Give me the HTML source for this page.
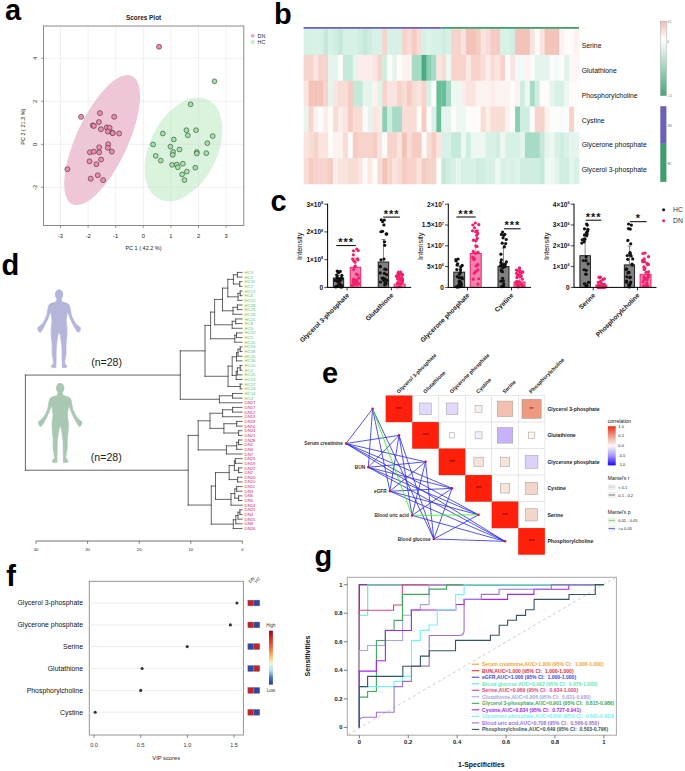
<!DOCTYPE html>
<html><head><meta charset="utf-8"><title>Figure</title>
<style>
html,body{margin:0;padding:0;background:#fff;}
body{width:685px;height:771px;overflow:hidden;}
svg{display:block;font-family:"Liberation Sans", sans-serif;}
</style></head><body>
<svg width="685" height="771" viewBox="0 0 685 771">
<rect x="0" y="0" width="685" height="771" fill="#fff"/>
<rect x="43.50" y="26.00" width="200.30" height="199.50" fill="#fff"/>
<ellipse cx="102.1" cy="140.1" rx="70.8" ry="25.8" transform="rotate(-65.1 102.1 140.1)" fill="#eec6d7"/>
<ellipse cx="183.45" cy="149.4" rx="55.4" ry="33.9" transform="rotate(-63.8 183.45 149.4)" fill="#d9f3dd"/>
<line x1="60.50" y1="26.00" x2="60.50" y2="225.50" stroke="#d8d8d8" stroke-width="0.6" stroke-opacity="0.6"/>
<line x1="88.10" y1="26.00" x2="88.10" y2="225.50" stroke="#d8d8d8" stroke-width="0.6" stroke-opacity="0.6"/>
<line x1="115.70" y1="26.00" x2="115.70" y2="225.50" stroke="#d8d8d8" stroke-width="0.6" stroke-opacity="0.6"/>
<line x1="143.30" y1="26.00" x2="143.30" y2="225.50" stroke="#d8d8d8" stroke-width="0.6" stroke-opacity="0.6"/>
<line x1="170.90" y1="26.00" x2="170.90" y2="225.50" stroke="#d8d8d8" stroke-width="0.6" stroke-opacity="0.6"/>
<line x1="198.50" y1="26.00" x2="198.50" y2="225.50" stroke="#d8d8d8" stroke-width="0.6" stroke-opacity="0.6"/>
<line x1="226.10" y1="26.00" x2="226.10" y2="225.50" stroke="#d8d8d8" stroke-width="0.6" stroke-opacity="0.6"/>
<line x1="43.50" y1="58.30" x2="243.80" y2="58.30" stroke="#d8d8d8" stroke-width="0.6" stroke-opacity="0.6"/>
<line x1="43.50" y1="101.30" x2="243.80" y2="101.30" stroke="#d8d8d8" stroke-width="0.6" stroke-opacity="0.6"/>
<line x1="43.50" y1="144.30" x2="243.80" y2="144.30" stroke="#d8d8d8" stroke-width="0.6" stroke-opacity="0.6"/>
<line x1="43.50" y1="187.30" x2="243.80" y2="187.30" stroke="#d8d8d8" stroke-width="0.6" stroke-opacity="0.6"/>
<rect x="43.50" y="26.00" width="200.30" height="199.50" fill="none" stroke="#8a8a8a" stroke-width="1"/>
<circle cx="81.10" cy="116.80" r="2.5" fill="#ec8cb0" stroke="#4a2834" stroke-width="0.6"/>
<circle cx="99.90" cy="113.10" r="2.5" fill="#ec8cb0" stroke="#4a2834" stroke-width="0.6"/>
<circle cx="114.20" cy="116.80" r="2.5" fill="#ec8cb0" stroke="#4a2834" stroke-width="0.6"/>
<circle cx="98.90" cy="122.10" r="2.5" fill="#ec8cb0" stroke="#4a2834" stroke-width="0.6"/>
<circle cx="92.80" cy="125.40" r="2.5" fill="#ec8cb0" stroke="#4a2834" stroke-width="0.6"/>
<circle cx="93.90" cy="125.90" r="2.5" fill="#ec8cb0" stroke="#4a2834" stroke-width="0.6"/>
<circle cx="100.90" cy="129.20" r="2.5" fill="#ec8cb0" stroke="#4a2834" stroke-width="0.6"/>
<circle cx="106.80" cy="127.40" r="2.5" fill="#ec8cb0" stroke="#4a2834" stroke-width="0.6"/>
<circle cx="109.60" cy="127.80" r="2.5" fill="#ec8cb0" stroke="#4a2834" stroke-width="0.6"/>
<circle cx="107.80" cy="131.60" r="2.5" fill="#ec8cb0" stroke="#4a2834" stroke-width="0.6"/>
<circle cx="112.50" cy="132.80" r="2.5" fill="#ec8cb0" stroke="#4a2834" stroke-width="0.6"/>
<circle cx="119.20" cy="133.50" r="2.5" fill="#ec8cb0" stroke="#4a2834" stroke-width="0.6"/>
<circle cx="108.20" cy="144.20" r="2.5" fill="#ec8cb0" stroke="#4a2834" stroke-width="0.6"/>
<circle cx="99.20" cy="147.30" r="2.5" fill="#ec8cb0" stroke="#4a2834" stroke-width="0.6"/>
<circle cx="107.80" cy="147.80" r="2.5" fill="#ec8cb0" stroke="#4a2834" stroke-width="0.6"/>
<circle cx="111.80" cy="151.60" r="2.5" fill="#ec8cb0" stroke="#4a2834" stroke-width="0.6"/>
<circle cx="89.90" cy="152.30" r="2.5" fill="#ec8cb0" stroke="#4a2834" stroke-width="0.6"/>
<circle cx="93.80" cy="151.60" r="2.5" fill="#ec8cb0" stroke="#4a2834" stroke-width="0.6"/>
<circle cx="99.20" cy="152.30" r="2.5" fill="#ec8cb0" stroke="#4a2834" stroke-width="0.6"/>
<circle cx="101.10" cy="159.50" r="2.5" fill="#ec8cb0" stroke="#4a2834" stroke-width="0.6"/>
<circle cx="89.50" cy="161.30" r="2.5" fill="#ec8cb0" stroke="#4a2834" stroke-width="0.6"/>
<circle cx="96.40" cy="164.20" r="2.5" fill="#ec8cb0" stroke="#4a2834" stroke-width="0.6"/>
<circle cx="67.40" cy="169.20" r="2.5" fill="#ec8cb0" stroke="#4a2834" stroke-width="0.6"/>
<circle cx="97.80" cy="175.20" r="2.5" fill="#ec8cb0" stroke="#4a2834" stroke-width="0.6"/>
<circle cx="90.70" cy="178.70" r="2.5" fill="#ec8cb0" stroke="#4a2834" stroke-width="0.6"/>
<circle cx="103.10" cy="180.10" r="2.5" fill="#ec8cb0" stroke="#4a2834" stroke-width="0.6"/>
<circle cx="159.05" cy="46.76" r="2.5" fill="#ec8cb0" stroke="#4a2834" stroke-width="0.6"/>
<circle cx="112.70" cy="133.10" r="2.5" fill="#ec8cb0" stroke="#4a2834" stroke-width="0.6"/>
<circle cx="190.60" cy="104.30" r="2.4" fill="#9ee6a6" stroke="#2e3e2e" stroke-width="0.6"/>
<circle cx="162.80" cy="133.50" r="2.4" fill="#9ee6a6" stroke="#2e3e2e" stroke-width="0.6"/>
<circle cx="186.40" cy="130.20" r="2.4" fill="#9ee6a6" stroke="#2e3e2e" stroke-width="0.6"/>
<circle cx="196.10" cy="130.20" r="2.4" fill="#9ee6a6" stroke="#2e3e2e" stroke-width="0.6"/>
<circle cx="187.80" cy="135.40" r="2.4" fill="#9ee6a6" stroke="#2e3e2e" stroke-width="0.6"/>
<circle cx="212.70" cy="136.10" r="2.4" fill="#9ee6a6" stroke="#2e3e2e" stroke-width="0.6"/>
<circle cx="173.80" cy="139.50" r="2.4" fill="#9ee6a6" stroke="#2e3e2e" stroke-width="0.6"/>
<circle cx="153.10" cy="144.50" r="2.4" fill="#9ee6a6" stroke="#2e3e2e" stroke-width="0.6"/>
<circle cx="207.30" cy="143.20" r="2.4" fill="#9ee6a6" stroke="#2e3e2e" stroke-width="0.6"/>
<circle cx="170.40" cy="146.60" r="2.4" fill="#9ee6a6" stroke="#2e3e2e" stroke-width="0.6"/>
<circle cx="179.50" cy="149.50" r="2.4" fill="#9ee6a6" stroke="#2e3e2e" stroke-width="0.6"/>
<circle cx="173.10" cy="152.00" r="2.4" fill="#9ee6a6" stroke="#2e3e2e" stroke-width="0.6"/>
<circle cx="172.80" cy="154.90" r="2.4" fill="#9ee6a6" stroke="#2e3e2e" stroke-width="0.6"/>
<circle cx="196.80" cy="152.00" r="2.4" fill="#9ee6a6" stroke="#2e3e2e" stroke-width="0.6"/>
<circle cx="196.80" cy="153.50" r="2.4" fill="#9ee6a6" stroke="#2e3e2e" stroke-width="0.6"/>
<circle cx="206.30" cy="153.20" r="2.4" fill="#9ee6a6" stroke="#2e3e2e" stroke-width="0.6"/>
<circle cx="155.70" cy="155.90" r="2.4" fill="#9ee6a6" stroke="#2e3e2e" stroke-width="0.6"/>
<circle cx="160.70" cy="160.60" r="2.4" fill="#9ee6a6" stroke="#2e3e2e" stroke-width="0.6"/>
<circle cx="172.10" cy="164.90" r="2.4" fill="#9ee6a6" stroke="#2e3e2e" stroke-width="0.6"/>
<circle cx="176.80" cy="164.50" r="2.4" fill="#9ee6a6" stroke="#2e3e2e" stroke-width="0.6"/>
<circle cx="177.80" cy="167.30" r="2.4" fill="#9ee6a6" stroke="#2e3e2e" stroke-width="0.6"/>
<circle cx="182.80" cy="163.70" r="2.4" fill="#9ee6a6" stroke="#2e3e2e" stroke-width="0.6"/>
<circle cx="195.30" cy="167.70" r="2.4" fill="#9ee6a6" stroke="#2e3e2e" stroke-width="0.6"/>
<circle cx="186.80" cy="171.60" r="2.4" fill="#9ee6a6" stroke="#2e3e2e" stroke-width="0.6"/>
<circle cx="182.10" cy="174.40" r="2.4" fill="#9ee6a6" stroke="#2e3e2e" stroke-width="0.6"/>
<circle cx="184.50" cy="180.10" r="2.4" fill="#9ee6a6" stroke="#2e3e2e" stroke-width="0.6"/>
<circle cx="214.50" cy="81.30" r="2.4" fill="#9ee6a6" stroke="#2e3e2e" stroke-width="0.6"/>
<line x1="60.50" y1="225.50" x2="60.50" y2="228.00" stroke="#555" stroke-width="0.6"/>
<text x="60.50" y="238.10" font-size="5.8" text-anchor="middle" fill="#222">-3</text>
<line x1="88.10" y1="225.50" x2="88.10" y2="228.00" stroke="#555" stroke-width="0.6"/>
<text x="88.10" y="238.10" font-size="5.8" text-anchor="middle" fill="#222">-2</text>
<line x1="115.70" y1="225.50" x2="115.70" y2="228.00" stroke="#555" stroke-width="0.6"/>
<text x="115.70" y="238.10" font-size="5.8" text-anchor="middle" fill="#222">-1</text>
<line x1="143.30" y1="225.50" x2="143.30" y2="228.00" stroke="#555" stroke-width="0.6"/>
<text x="143.30" y="238.10" font-size="5.8" text-anchor="middle" fill="#222">0</text>
<line x1="170.90" y1="225.50" x2="170.90" y2="228.00" stroke="#555" stroke-width="0.6"/>
<text x="170.90" y="238.10" font-size="5.8" text-anchor="middle" fill="#222">1</text>
<line x1="198.50" y1="225.50" x2="198.50" y2="228.00" stroke="#555" stroke-width="0.6"/>
<text x="198.50" y="238.10" font-size="5.8" text-anchor="middle" fill="#222">2</text>
<line x1="226.10" y1="225.50" x2="226.10" y2="228.00" stroke="#555" stroke-width="0.6"/>
<text x="226.10" y="238.10" font-size="5.8" text-anchor="middle" fill="#222">3</text>
<line x1="41.00" y1="58.30" x2="43.50" y2="58.30" stroke="#555" stroke-width="0.6"/>
<text x="37.00" y="58.30" font-size="5.8" text-anchor="middle" fill="#222" transform="rotate(-90 37.00 58.30)">4</text>
<line x1="41.00" y1="101.30" x2="43.50" y2="101.30" stroke="#555" stroke-width="0.6"/>
<text x="37.00" y="101.30" font-size="5.8" text-anchor="middle" fill="#222" transform="rotate(-90 37.00 101.30)">2</text>
<line x1="41.00" y1="144.30" x2="43.50" y2="144.30" stroke="#555" stroke-width="0.6"/>
<text x="37.00" y="144.30" font-size="5.8" text-anchor="middle" fill="#222" transform="rotate(-90 37.00 144.30)">0</text>
<line x1="41.00" y1="187.30" x2="43.50" y2="187.30" stroke="#555" stroke-width="0.6"/>
<text x="37.00" y="187.30" font-size="5.8" text-anchor="middle" fill="#222" transform="rotate(-90 37.00 187.30)">-2</text>
<text x="143.60" y="19.60" font-size="6.4" text-anchor="middle" font-weight="bold" fill="#222">Scores Plot</text>
<text x="143.50" y="250.00" font-size="5.5" text-anchor="middle" fill="#222">PC 1 ( 42.2 %)</text>
<text x="25.20" y="126.60" font-size="5.5" text-anchor="middle" fill="#222" transform="rotate(-90 25.20 126.60)">PC 2 ( 21.3 %)</text>
<circle cx="252.70" cy="35.80" r="1.45" fill="#f4b4cc" stroke="#d87ca0" stroke-width="0.6"/>
<text x="257.60" y="37.80" font-size="5.3" fill="#222">DN</text>
<circle cx="252.70" cy="42.00" r="1.45" fill="#e4f8e4" stroke="#8ccc8c" stroke-width="0.6"/>
<text x="257.60" y="44.00" font-size="5.3" fill="#222">HC</text>
<rect x="303.60" y="28.80" width="5.27" height="26.45" fill="#d7f1e6"/>
<rect x="308.52" y="28.80" width="5.27" height="26.45" fill="#d7f1e6"/>
<rect x="313.44" y="28.80" width="5.27" height="26.45" fill="#d7f1e6"/>
<rect x="318.35" y="28.80" width="5.27" height="26.45" fill="#d7f1e6"/>
<rect x="323.27" y="28.80" width="5.27" height="26.45" fill="#c4e9d9"/>
<rect x="328.19" y="28.80" width="5.27" height="26.45" fill="#d7f1e6"/>
<rect x="333.11" y="28.80" width="5.27" height="26.45" fill="#cfeee1"/>
<rect x="338.03" y="28.80" width="5.27" height="26.45" fill="#c4e9d9"/>
<rect x="342.94" y="28.80" width="5.27" height="26.45" fill="#d7f1e6"/>
<rect x="347.86" y="28.80" width="5.27" height="26.45" fill="#d7f1e6"/>
<rect x="352.78" y="28.80" width="5.27" height="26.45" fill="#d7f1e6"/>
<rect x="357.70" y="28.80" width="5.27" height="26.45" fill="#cfeee1"/>
<rect x="362.61" y="28.80" width="5.27" height="26.45" fill="#c4e9d9"/>
<rect x="367.53" y="28.80" width="5.27" height="26.45" fill="#cfeee1"/>
<rect x="372.45" y="28.80" width="5.27" height="26.45" fill="#d7f1e6"/>
<rect x="377.37" y="28.80" width="5.27" height="26.45" fill="#d7f1e6"/>
<rect x="382.29" y="28.80" width="5.27" height="26.45" fill="#f6d3cb"/>
<rect x="387.20" y="28.80" width="5.27" height="26.45" fill="#d7f1e6"/>
<rect x="392.12" y="28.80" width="5.27" height="26.45" fill="#d7f1e6"/>
<rect x="397.04" y="28.80" width="5.27" height="26.45" fill="#d7f1e6"/>
<rect x="401.96" y="28.80" width="5.27" height="26.45" fill="#f6d3cb"/>
<rect x="406.88" y="28.80" width="5.27" height="26.45" fill="#f8dcd6"/>
<rect x="411.79" y="28.80" width="5.27" height="26.45" fill="#f5cbc2"/>
<rect x="416.71" y="28.80" width="5.27" height="26.45" fill="#f8dcd6"/>
<rect x="421.63" y="28.80" width="5.27" height="26.45" fill="#d7f1e6"/>
<rect x="426.55" y="28.80" width="5.27" height="26.45" fill="#def3ea"/>
<rect x="431.46" y="28.80" width="5.27" height="26.45" fill="#d7f1e6"/>
<rect x="436.38" y="28.80" width="5.27" height="26.45" fill="#d7f1e6"/>
<rect x="441.30" y="28.80" width="5.27" height="26.45" fill="#cfeee1"/>
<rect x="446.22" y="28.80" width="5.27" height="26.45" fill="#d7f1e6"/>
<rect x="451.14" y="28.80" width="5.27" height="26.45" fill="#f6d3cb"/>
<rect x="456.05" y="28.80" width="5.27" height="26.45" fill="#f6d3cb"/>
<rect x="460.97" y="28.80" width="5.27" height="26.45" fill="#fae4df"/>
<rect x="465.89" y="28.80" width="5.27" height="26.45" fill="#f3c3b9"/>
<rect x="470.81" y="28.80" width="5.27" height="26.45" fill="#f3c3b9"/>
<rect x="475.73" y="28.80" width="5.27" height="26.45" fill="#f5cbc2"/>
<rect x="480.64" y="28.80" width="5.27" height="26.45" fill="#fae4df"/>
<rect x="485.56" y="28.80" width="5.27" height="26.45" fill="#f8dcd6"/>
<rect x="490.48" y="28.80" width="5.27" height="26.45" fill="#f5cbc2"/>
<rect x="495.40" y="28.80" width="5.27" height="26.45" fill="#f5cbc2"/>
<rect x="500.31" y="28.80" width="5.27" height="26.45" fill="#d7f1e6"/>
<rect x="505.23" y="28.80" width="5.27" height="26.45" fill="#d7f1e6"/>
<rect x="510.15" y="28.80" width="5.27" height="26.45" fill="#cfeee1"/>
<rect x="515.07" y="28.80" width="5.27" height="26.45" fill="#f3c3b9"/>
<rect x="519.99" y="28.80" width="5.27" height="26.45" fill="#f3c3b9"/>
<rect x="524.90" y="28.80" width="5.27" height="26.45" fill="#f3c3b9"/>
<rect x="529.82" y="28.80" width="5.27" height="26.45" fill="#fae4df"/>
<rect x="534.74" y="28.80" width="5.27" height="26.45" fill="#fefcfb"/>
<rect x="539.66" y="28.80" width="5.27" height="26.45" fill="#fae4df"/>
<rect x="544.58" y="28.80" width="5.27" height="26.45" fill="#f3c3b9"/>
<rect x="549.49" y="28.80" width="5.27" height="26.45" fill="#f3c3b9"/>
<rect x="554.41" y="28.80" width="5.27" height="26.45" fill="#f3c3b9"/>
<rect x="559.33" y="28.80" width="5.27" height="26.45" fill="#fcf2ef"/>
<rect x="564.25" y="28.80" width="5.27" height="26.45" fill="#fefcfb"/>
<rect x="569.16" y="28.80" width="5.27" height="26.45" fill="#fefcfb"/>
<rect x="574.08" y="28.80" width="5.27" height="26.45" fill="#fcf2ef"/>
<rect x="303.60" y="54.90" width="5.27" height="26.15" fill="#f6d3cb"/>
<rect x="308.52" y="54.90" width="5.27" height="26.15" fill="#f6d3cb"/>
<rect x="313.44" y="54.90" width="5.27" height="26.15" fill="#fae4df"/>
<rect x="318.35" y="54.90" width="5.27" height="26.15" fill="#f6d3cb"/>
<rect x="323.27" y="54.90" width="5.27" height="26.15" fill="#f6d3cb"/>
<rect x="328.19" y="54.90" width="5.27" height="26.15" fill="#e5f5ee"/>
<rect x="333.11" y="54.90" width="5.27" height="26.15" fill="#e5f5ee"/>
<rect x="338.03" y="54.90" width="5.27" height="26.15" fill="#fefcfb"/>
<rect x="342.94" y="54.90" width="5.27" height="26.15" fill="#c4e9d9"/>
<rect x="347.86" y="54.90" width="5.27" height="26.15" fill="#c4e9d9"/>
<rect x="352.78" y="54.90" width="5.27" height="26.15" fill="#e5f5ee"/>
<rect x="357.70" y="54.90" width="5.27" height="26.15" fill="#fbede9"/>
<rect x="362.61" y="54.90" width="5.27" height="26.15" fill="#fbede9"/>
<rect x="367.53" y="54.90" width="5.27" height="26.15" fill="#fbede9"/>
<rect x="372.45" y="54.90" width="5.27" height="26.15" fill="#fae4df"/>
<rect x="377.37" y="54.90" width="5.27" height="26.15" fill="#f6d3cb"/>
<rect x="382.29" y="54.90" width="5.27" height="26.15" fill="#cfeee1"/>
<rect x="387.20" y="54.90" width="5.27" height="26.15" fill="#fefcfb"/>
<rect x="392.12" y="54.90" width="5.27" height="26.15" fill="#e5f5ee"/>
<rect x="397.04" y="54.90" width="5.27" height="26.15" fill="#fefcfb"/>
<rect x="401.96" y="54.90" width="5.27" height="26.15" fill="#fcf2ef"/>
<rect x="406.88" y="54.90" width="5.27" height="26.15" fill="#fcf2ef"/>
<rect x="411.79" y="54.90" width="5.27" height="26.15" fill="#a8dbc5"/>
<rect x="416.71" y="54.90" width="5.27" height="26.15" fill="#a8dbc5"/>
<rect x="421.63" y="54.90" width="5.27" height="26.15" fill="#4aab80"/>
<rect x="426.55" y="54.90" width="5.27" height="26.15" fill="#8ccfb2"/>
<rect x="431.46" y="54.90" width="5.27" height="26.15" fill="#a8dbc5"/>
<rect x="436.38" y="54.90" width="5.27" height="26.15" fill="#fae4df"/>
<rect x="441.30" y="54.90" width="5.27" height="26.15" fill="#f8dcd6"/>
<rect x="446.22" y="54.90" width="5.27" height="26.15" fill="#edf8f3"/>
<rect x="451.14" y="54.90" width="5.27" height="26.15" fill="#f6d3cb"/>
<rect x="456.05" y="54.90" width="5.27" height="26.15" fill="#f6d3cb"/>
<rect x="460.97" y="54.90" width="5.27" height="26.15" fill="#f6d3cb"/>
<rect x="465.89" y="54.90" width="5.27" height="26.15" fill="#fae9e5"/>
<rect x="470.81" y="54.90" width="5.27" height="26.15" fill="#f6d3cb"/>
<rect x="475.73" y="54.90" width="5.27" height="26.15" fill="#f6d3cb"/>
<rect x="480.64" y="54.90" width="5.27" height="26.15" fill="#f8dcd6"/>
<rect x="485.56" y="54.90" width="5.27" height="26.15" fill="#fbede9"/>
<rect x="490.48" y="54.90" width="5.27" height="26.15" fill="#f8dcd6"/>
<rect x="495.40" y="54.90" width="5.27" height="26.15" fill="#fae4df"/>
<rect x="500.31" y="54.90" width="5.27" height="26.15" fill="#f6d3cb"/>
<rect x="505.23" y="54.90" width="5.27" height="26.15" fill="#fefcfb"/>
<rect x="510.15" y="54.90" width="5.27" height="26.15" fill="#fae4df"/>
<rect x="515.07" y="54.90" width="5.27" height="26.15" fill="#f2faf7"/>
<rect x="519.99" y="54.90" width="5.27" height="26.15" fill="#f2faf7"/>
<rect x="524.90" y="54.90" width="5.27" height="26.15" fill="#fcf2ef"/>
<rect x="529.82" y="54.90" width="5.27" height="26.15" fill="#fefcfb"/>
<rect x="534.74" y="54.90" width="5.27" height="26.15" fill="#e5f5ee"/>
<rect x="539.66" y="54.90" width="5.27" height="26.15" fill="#e5f5ee"/>
<rect x="544.58" y="54.90" width="5.27" height="26.15" fill="#e5f5ee"/>
<rect x="549.49" y="54.90" width="5.27" height="26.15" fill="#fefcfb"/>
<rect x="554.41" y="54.90" width="5.27" height="26.15" fill="#f2faf7"/>
<rect x="559.33" y="54.90" width="5.27" height="26.15" fill="#fefcfb"/>
<rect x="564.25" y="54.90" width="5.27" height="26.15" fill="#def3ea"/>
<rect x="569.16" y="54.90" width="5.27" height="26.15" fill="#fdf6f4"/>
<rect x="574.08" y="54.90" width="5.27" height="26.15" fill="#fdf6f4"/>
<rect x="303.60" y="80.70" width="5.27" height="26.15" fill="#fae4df"/>
<rect x="308.52" y="80.70" width="5.27" height="26.15" fill="#f3c3b9"/>
<rect x="313.44" y="80.70" width="5.27" height="26.15" fill="#f3c3b9"/>
<rect x="318.35" y="80.70" width="5.27" height="26.15" fill="#f3c3b9"/>
<rect x="323.27" y="80.70" width="5.27" height="26.15" fill="#f6d3cb"/>
<rect x="328.19" y="80.70" width="5.27" height="26.15" fill="#e5f5ee"/>
<rect x="333.11" y="80.70" width="5.27" height="26.15" fill="#fae4df"/>
<rect x="338.03" y="80.70" width="5.27" height="26.15" fill="#f8dcd6"/>
<rect x="342.94" y="80.70" width="5.27" height="26.15" fill="#f8dcd6"/>
<rect x="347.86" y="80.70" width="5.27" height="26.15" fill="#f5cbc2"/>
<rect x="352.78" y="80.70" width="5.27" height="26.15" fill="#c4e9d9"/>
<rect x="357.70" y="80.70" width="5.27" height="26.15" fill="#c4e9d9"/>
<rect x="362.61" y="80.70" width="5.27" height="26.15" fill="#e5f5ee"/>
<rect x="367.53" y="80.70" width="5.27" height="26.15" fill="#e5f5ee"/>
<rect x="372.45" y="80.70" width="5.27" height="26.15" fill="#fcf2ef"/>
<rect x="377.37" y="80.70" width="5.27" height="26.15" fill="#def3ea"/>
<rect x="382.29" y="80.70" width="5.27" height="26.15" fill="#f6d3cb"/>
<rect x="387.20" y="80.70" width="5.27" height="26.15" fill="#fae4df"/>
<rect x="392.12" y="80.70" width="5.27" height="26.15" fill="#fae4df"/>
<rect x="397.04" y="80.70" width="5.27" height="26.15" fill="#f6d3cb"/>
<rect x="401.96" y="80.70" width="5.27" height="26.15" fill="#f8dcd6"/>
<rect x="406.88" y="80.70" width="5.27" height="26.15" fill="#f5cbc2"/>
<rect x="411.79" y="80.70" width="5.27" height="26.15" fill="#f8dcd6"/>
<rect x="416.71" y="80.70" width="5.27" height="26.15" fill="#fae4df"/>
<rect x="421.63" y="80.70" width="5.27" height="26.15" fill="#f6d3cb"/>
<rect x="426.55" y="80.70" width="5.27" height="26.15" fill="#d7f1e6"/>
<rect x="431.46" y="80.70" width="5.27" height="26.15" fill="#fefcfb"/>
<rect x="436.38" y="80.70" width="5.27" height="26.15" fill="#68bf99"/>
<rect x="441.30" y="80.70" width="5.27" height="26.15" fill="#68bf99"/>
<rect x="446.22" y="80.70" width="5.27" height="26.15" fill="#a8dbc5"/>
<rect x="451.14" y="80.70" width="5.27" height="26.15" fill="#edf8f3"/>
<rect x="456.05" y="80.70" width="5.27" height="26.15" fill="#edf8f3"/>
<rect x="460.97" y="80.70" width="5.27" height="26.15" fill="#fbede9"/>
<rect x="465.89" y="80.70" width="5.27" height="26.15" fill="#fae4df"/>
<rect x="470.81" y="80.70" width="5.27" height="26.15" fill="#fae4df"/>
<rect x="475.73" y="80.70" width="5.27" height="26.15" fill="#fcf2ef"/>
<rect x="480.64" y="80.70" width="5.27" height="26.15" fill="#fcf2ef"/>
<rect x="485.56" y="80.70" width="5.27" height="26.15" fill="#fcf2ef"/>
<rect x="490.48" y="80.70" width="5.27" height="26.15" fill="#fbede9"/>
<rect x="495.40" y="80.70" width="5.27" height="26.15" fill="#fcf2ef"/>
<rect x="500.31" y="80.70" width="5.27" height="26.15" fill="#fcf2ef"/>
<rect x="505.23" y="80.70" width="5.27" height="26.15" fill="#fcf2ef"/>
<rect x="510.15" y="80.70" width="5.27" height="26.15" fill="#fefcfb"/>
<rect x="515.07" y="80.70" width="5.27" height="26.15" fill="#fcf2ef"/>
<rect x="519.99" y="80.70" width="5.27" height="26.15" fill="#cfeee1"/>
<rect x="524.90" y="80.70" width="5.27" height="26.15" fill="#edf8f3"/>
<rect x="529.82" y="80.70" width="5.27" height="26.15" fill="#a8dbc5"/>
<rect x="534.74" y="80.70" width="5.27" height="26.15" fill="#cfeee1"/>
<rect x="539.66" y="80.70" width="5.27" height="26.15" fill="#fefcfb"/>
<rect x="544.58" y="80.70" width="5.27" height="26.15" fill="#fefcfb"/>
<rect x="549.49" y="80.70" width="5.27" height="26.15" fill="#e5f5ee"/>
<rect x="554.41" y="80.70" width="5.27" height="26.15" fill="#d7f1e6"/>
<rect x="559.33" y="80.70" width="5.27" height="26.15" fill="#d7f1e6"/>
<rect x="564.25" y="80.70" width="5.27" height="26.15" fill="#edf8f3"/>
<rect x="569.16" y="80.70" width="5.27" height="26.15" fill="#fefcfb"/>
<rect x="574.08" y="80.70" width="5.27" height="26.15" fill="#fefcfb"/>
<rect x="303.60" y="106.50" width="5.27" height="26.15" fill="#e5f5ee"/>
<rect x="308.52" y="106.50" width="5.27" height="26.15" fill="#f6d3cb"/>
<rect x="313.44" y="106.50" width="5.27" height="26.15" fill="#fcf2ef"/>
<rect x="318.35" y="106.50" width="5.27" height="26.15" fill="#fefcfb"/>
<rect x="323.27" y="106.50" width="5.27" height="26.15" fill="#fbede9"/>
<rect x="328.19" y="106.50" width="5.27" height="26.15" fill="#fefcfb"/>
<rect x="333.11" y="106.50" width="5.27" height="26.15" fill="#f8dcd6"/>
<rect x="338.03" y="106.50" width="5.27" height="26.15" fill="#fbede9"/>
<rect x="342.94" y="106.50" width="5.27" height="26.15" fill="#fae4df"/>
<rect x="347.86" y="106.50" width="5.27" height="26.15" fill="#f5cbc2"/>
<rect x="352.78" y="106.50" width="5.27" height="26.15" fill="#f8dcd6"/>
<rect x="357.70" y="106.50" width="5.27" height="26.15" fill="#f8dcd6"/>
<rect x="362.61" y="106.50" width="5.27" height="26.15" fill="#fefcfb"/>
<rect x="367.53" y="106.50" width="5.27" height="26.15" fill="#e5f5ee"/>
<rect x="372.45" y="106.50" width="5.27" height="26.15" fill="#fae4df"/>
<rect x="377.37" y="106.50" width="5.27" height="26.15" fill="#fae9e5"/>
<rect x="382.29" y="106.50" width="5.27" height="26.15" fill="#8ccfb2"/>
<rect x="387.20" y="106.50" width="5.27" height="26.15" fill="#cfeee1"/>
<rect x="392.12" y="106.50" width="5.27" height="26.15" fill="#a8dbc5"/>
<rect x="397.04" y="106.50" width="5.27" height="26.15" fill="#a8dbc5"/>
<rect x="401.96" y="106.50" width="5.27" height="26.15" fill="#f8dcd6"/>
<rect x="406.88" y="106.50" width="5.27" height="26.15" fill="#f8dcd6"/>
<rect x="411.79" y="106.50" width="5.27" height="26.15" fill="#f8dcd6"/>
<rect x="416.71" y="106.50" width="5.27" height="26.15" fill="#fefcfb"/>
<rect x="421.63" y="106.50" width="5.27" height="26.15" fill="#f5cbc2"/>
<rect x="426.55" y="106.50" width="5.27" height="26.15" fill="#fefcfb"/>
<rect x="431.46" y="106.50" width="5.27" height="26.15" fill="#d7f1e6"/>
<rect x="436.38" y="106.50" width="5.27" height="26.15" fill="#68bf99"/>
<rect x="441.30" y="106.50" width="5.27" height="26.15" fill="#e5f5ee"/>
<rect x="446.22" y="106.50" width="5.27" height="26.15" fill="#e5f5ee"/>
<rect x="451.14" y="106.50" width="5.27" height="26.15" fill="#fefcfb"/>
<rect x="456.05" y="106.50" width="5.27" height="26.15" fill="#edf8f3"/>
<rect x="460.97" y="106.50" width="5.27" height="26.15" fill="#edf8f3"/>
<rect x="465.89" y="106.50" width="5.27" height="26.15" fill="#fefcfb"/>
<rect x="470.81" y="106.50" width="5.27" height="26.15" fill="#fefcfb"/>
<rect x="475.73" y="106.50" width="5.27" height="26.15" fill="#fefcfb"/>
<rect x="480.64" y="106.50" width="5.27" height="26.15" fill="#f8dcd6"/>
<rect x="485.56" y="106.50" width="5.27" height="26.15" fill="#fbede9"/>
<rect x="490.48" y="106.50" width="5.27" height="26.15" fill="#f8dcd6"/>
<rect x="495.40" y="106.50" width="5.27" height="26.15" fill="#f8dcd6"/>
<rect x="500.31" y="106.50" width="5.27" height="26.15" fill="#f8dcd6"/>
<rect x="505.23" y="106.50" width="5.27" height="26.15" fill="#fcf2ef"/>
<rect x="510.15" y="106.50" width="5.27" height="26.15" fill="#fefcfb"/>
<rect x="515.07" y="106.50" width="5.27" height="26.15" fill="#8ccfb2"/>
<rect x="519.99" y="106.50" width="5.27" height="26.15" fill="#cfeee1"/>
<rect x="524.90" y="106.50" width="5.27" height="26.15" fill="#cfeee1"/>
<rect x="529.82" y="106.50" width="5.27" height="26.15" fill="#fefcfb"/>
<rect x="534.74" y="106.50" width="5.27" height="26.15" fill="#f6d3cb"/>
<rect x="539.66" y="106.50" width="5.27" height="26.15" fill="#f6d3cb"/>
<rect x="544.58" y="106.50" width="5.27" height="26.15" fill="#fcf2ef"/>
<rect x="549.49" y="106.50" width="5.27" height="26.15" fill="#fefcfb"/>
<rect x="554.41" y="106.50" width="5.27" height="26.15" fill="#fefcfb"/>
<rect x="559.33" y="106.50" width="5.27" height="26.15" fill="#f6fcf9"/>
<rect x="564.25" y="106.50" width="5.27" height="26.15" fill="#fefcfb"/>
<rect x="569.16" y="106.50" width="5.27" height="26.15" fill="#f6d3cb"/>
<rect x="574.08" y="106.50" width="5.27" height="26.15" fill="#fefcfb"/>
<rect x="303.60" y="132.30" width="5.27" height="26.15" fill="#fae4df"/>
<rect x="308.52" y="132.30" width="5.27" height="26.15" fill="#f8dcd6"/>
<rect x="313.44" y="132.30" width="5.27" height="26.15" fill="#f6d3cb"/>
<rect x="318.35" y="132.30" width="5.27" height="26.15" fill="#fae4df"/>
<rect x="323.27" y="132.30" width="5.27" height="26.15" fill="#fae4df"/>
<rect x="328.19" y="132.30" width="5.27" height="26.15" fill="#fefcfb"/>
<rect x="333.11" y="132.30" width="5.27" height="26.15" fill="#fcf2ef"/>
<rect x="338.03" y="132.30" width="5.27" height="26.15" fill="#fcf2ef"/>
<rect x="342.94" y="132.30" width="5.27" height="26.15" fill="#f8dcd6"/>
<rect x="347.86" y="132.30" width="5.27" height="26.15" fill="#fefcfb"/>
<rect x="352.78" y="132.30" width="5.27" height="26.15" fill="#f5cbc2"/>
<rect x="357.70" y="132.30" width="5.27" height="26.15" fill="#f6d3cb"/>
<rect x="362.61" y="132.30" width="5.27" height="26.15" fill="#f6d3cb"/>
<rect x="367.53" y="132.30" width="5.27" height="26.15" fill="#f6d3cb"/>
<rect x="372.45" y="132.30" width="5.27" height="26.15" fill="#f5cbc2"/>
<rect x="377.37" y="132.30" width="5.27" height="26.15" fill="#fae4df"/>
<rect x="382.29" y="132.30" width="5.27" height="26.15" fill="#fefcfb"/>
<rect x="387.20" y="132.30" width="5.27" height="26.15" fill="#f6d3cb"/>
<rect x="392.12" y="132.30" width="5.27" height="26.15" fill="#f6d3cb"/>
<rect x="397.04" y="132.30" width="5.27" height="26.15" fill="#fae4df"/>
<rect x="401.96" y="132.30" width="5.27" height="26.15" fill="#f3c3b9"/>
<rect x="406.88" y="132.30" width="5.27" height="26.15" fill="#f8dcd6"/>
<rect x="411.79" y="132.30" width="5.27" height="26.15" fill="#f5cbc2"/>
<rect x="416.71" y="132.30" width="5.27" height="26.15" fill="#f5cbc2"/>
<rect x="421.63" y="132.30" width="5.27" height="26.15" fill="#fefcfb"/>
<rect x="426.55" y="132.30" width="5.27" height="26.15" fill="#f8dcd6"/>
<rect x="431.46" y="132.30" width="5.27" height="26.15" fill="#f5cbc2"/>
<rect x="436.38" y="132.30" width="5.27" height="26.15" fill="#fae4df"/>
<rect x="441.30" y="132.30" width="5.27" height="26.15" fill="#d7f1e6"/>
<rect x="446.22" y="132.30" width="5.27" height="26.15" fill="#d7f1e6"/>
<rect x="451.14" y="132.30" width="5.27" height="26.15" fill="#c4e9d9"/>
<rect x="456.05" y="132.30" width="5.27" height="26.15" fill="#c4e9d9"/>
<rect x="460.97" y="132.30" width="5.27" height="26.15" fill="#edf8f3"/>
<rect x="465.89" y="132.30" width="5.27" height="26.15" fill="#cfeee1"/>
<rect x="470.81" y="132.30" width="5.27" height="26.15" fill="#edf8f3"/>
<rect x="475.73" y="132.30" width="5.27" height="26.15" fill="#edf8f3"/>
<rect x="480.64" y="132.30" width="5.27" height="26.15" fill="#edf8f3"/>
<rect x="485.56" y="132.30" width="5.27" height="26.15" fill="#d7f1e6"/>
<rect x="490.48" y="132.30" width="5.27" height="26.15" fill="#d7f1e6"/>
<rect x="495.40" y="132.30" width="5.27" height="26.15" fill="#cfeee1"/>
<rect x="500.31" y="132.30" width="5.27" height="26.15" fill="#edf8f3"/>
<rect x="505.23" y="132.30" width="5.27" height="26.15" fill="#d7f1e6"/>
<rect x="510.15" y="132.30" width="5.27" height="26.15" fill="#d7f1e6"/>
<rect x="515.07" y="132.30" width="5.27" height="26.15" fill="#d7f1e6"/>
<rect x="519.99" y="132.30" width="5.27" height="26.15" fill="#e5f5ee"/>
<rect x="524.90" y="132.30" width="5.27" height="26.15" fill="#a8dbc5"/>
<rect x="529.82" y="132.30" width="5.27" height="26.15" fill="#a8dbc5"/>
<rect x="534.74" y="132.30" width="5.27" height="26.15" fill="#a8dbc5"/>
<rect x="539.66" y="132.30" width="5.27" height="26.15" fill="#c4e9d9"/>
<rect x="544.58" y="132.30" width="5.27" height="26.15" fill="#e5f5ee"/>
<rect x="549.49" y="132.30" width="5.27" height="26.15" fill="#edf8f3"/>
<rect x="554.41" y="132.30" width="5.27" height="26.15" fill="#d7f1e6"/>
<rect x="559.33" y="132.30" width="5.27" height="26.15" fill="#cfeee1"/>
<rect x="564.25" y="132.30" width="5.27" height="26.15" fill="#d7f1e6"/>
<rect x="569.16" y="132.30" width="5.27" height="26.15" fill="#e5f5ee"/>
<rect x="574.08" y="132.30" width="5.27" height="26.15" fill="#e5f5ee"/>
<rect x="303.60" y="158.10" width="5.27" height="26.15" fill="#f8dcd6"/>
<rect x="308.52" y="158.10" width="5.27" height="26.15" fill="#f5cbc2"/>
<rect x="313.44" y="158.10" width="5.27" height="26.15" fill="#f6d3cb"/>
<rect x="318.35" y="158.10" width="5.27" height="26.15" fill="#f6d3cb"/>
<rect x="323.27" y="158.10" width="5.27" height="26.15" fill="#f6d3cb"/>
<rect x="328.19" y="158.10" width="5.27" height="26.15" fill="#f5cbc2"/>
<rect x="333.11" y="158.10" width="5.27" height="26.15" fill="#fbede9"/>
<rect x="338.03" y="158.10" width="5.27" height="26.15" fill="#fae4df"/>
<rect x="342.94" y="158.10" width="5.27" height="26.15" fill="#fae4df"/>
<rect x="347.86" y="158.10" width="5.27" height="26.15" fill="#f8dcd6"/>
<rect x="352.78" y="158.10" width="5.27" height="26.15" fill="#f8dcd6"/>
<rect x="357.70" y="158.10" width="5.27" height="26.15" fill="#fae4df"/>
<rect x="362.61" y="158.10" width="5.27" height="26.15" fill="#fefcfb"/>
<rect x="367.53" y="158.10" width="5.27" height="26.15" fill="#fae9e5"/>
<rect x="372.45" y="158.10" width="5.27" height="26.15" fill="#fefcfb"/>
<rect x="377.37" y="158.10" width="5.27" height="26.15" fill="#f8dcd6"/>
<rect x="382.29" y="158.10" width="5.27" height="26.15" fill="#f3c3b9"/>
<rect x="387.20" y="158.10" width="5.27" height="26.15" fill="#f6d3cb"/>
<rect x="392.12" y="158.10" width="5.27" height="26.15" fill="#fae4df"/>
<rect x="397.04" y="158.10" width="5.27" height="26.15" fill="#f8dcd6"/>
<rect x="401.96" y="158.10" width="5.27" height="26.15" fill="#f5cbc2"/>
<rect x="406.88" y="158.10" width="5.27" height="26.15" fill="#f6d3cb"/>
<rect x="411.79" y="158.10" width="5.27" height="26.15" fill="#f6d3cb"/>
<rect x="416.71" y="158.10" width="5.27" height="26.15" fill="#fae4df"/>
<rect x="421.63" y="158.10" width="5.27" height="26.15" fill="#f5cbc2"/>
<rect x="426.55" y="158.10" width="5.27" height="26.15" fill="#f6d3cb"/>
<rect x="431.46" y="158.10" width="5.27" height="26.15" fill="#f6d3cb"/>
<rect x="436.38" y="158.10" width="5.27" height="26.15" fill="#fefcfb"/>
<rect x="441.30" y="158.10" width="5.27" height="26.15" fill="#c4e9d9"/>
<rect x="446.22" y="158.10" width="5.27" height="26.15" fill="#cfeee1"/>
<rect x="451.14" y="158.10" width="5.27" height="26.15" fill="#d7f1e6"/>
<rect x="456.05" y="158.10" width="5.27" height="26.15" fill="#e5f5ee"/>
<rect x="460.97" y="158.10" width="5.27" height="26.15" fill="#d7f1e6"/>
<rect x="465.89" y="158.10" width="5.27" height="26.15" fill="#d7f1e6"/>
<rect x="470.81" y="158.10" width="5.27" height="26.15" fill="#d7f1e6"/>
<rect x="475.73" y="158.10" width="5.27" height="26.15" fill="#cfeee1"/>
<rect x="480.64" y="158.10" width="5.27" height="26.15" fill="#cfeee1"/>
<rect x="485.56" y="158.10" width="5.27" height="26.15" fill="#d7f1e6"/>
<rect x="490.48" y="158.10" width="5.27" height="26.15" fill="#d7f1e6"/>
<rect x="495.40" y="158.10" width="5.27" height="26.15" fill="#edf8f3"/>
<rect x="500.31" y="158.10" width="5.27" height="26.15" fill="#d7f1e6"/>
<rect x="505.23" y="158.10" width="5.27" height="26.15" fill="#def3ea"/>
<rect x="510.15" y="158.10" width="5.27" height="26.15" fill="#d7f1e6"/>
<rect x="515.07" y="158.10" width="5.27" height="26.15" fill="#def3ea"/>
<rect x="519.99" y="158.10" width="5.27" height="26.15" fill="#cfeee1"/>
<rect x="524.90" y="158.10" width="5.27" height="26.15" fill="#cfeee1"/>
<rect x="529.82" y="158.10" width="5.27" height="26.15" fill="#cfeee1"/>
<rect x="534.74" y="158.10" width="5.27" height="26.15" fill="#cfeee1"/>
<rect x="539.66" y="158.10" width="5.27" height="26.15" fill="#c4e9d9"/>
<rect x="544.58" y="158.10" width="5.27" height="26.15" fill="#edf8f3"/>
<rect x="549.49" y="158.10" width="5.27" height="26.15" fill="#edf8f3"/>
<rect x="554.41" y="158.10" width="5.27" height="26.15" fill="#e5f5ee"/>
<rect x="559.33" y="158.10" width="5.27" height="26.15" fill="#cfeee1"/>
<rect x="564.25" y="158.10" width="5.27" height="26.15" fill="#cfeee1"/>
<rect x="569.16" y="158.10" width="5.27" height="26.15" fill="#e5f5ee"/>
<rect x="574.08" y="158.10" width="5.27" height="26.15" fill="#d7f1e6"/>
<rect x="303.60" y="27.00" width="137.70" height="1.80" fill="#6b62b8"/>
<rect x="441.30" y="27.00" width="137.70" height="1.80" fill="#3f9e6e"/>
<text x="581.70" y="48.30" font-size="6.85" fill="#111">Serine</text>
<text x="581.70" y="73.08" font-size="6.85" fill="#111">Glutathione</text>
<text x="581.70" y="97.86" font-size="6.85" fill="#111">Phosphorylcholine</text>
<text x="581.70" y="122.64" font-size="6.85" fill="#111">Cystine</text>
<text x="581.70" y="147.42" font-size="6.85" fill="#111">Glycerone phosphate</text>
<text x="581.70" y="172.20" font-size="6.85" fill="#111">Glycerol 3-phosphate</text>
<defs><linearGradient id="hmg" x1="0" y1="0" x2="0" y2="1"><stop offset="0" stop-color="#f3b9ad"/><stop offset="0.25" stop-color="#ffffff"/><stop offset="1" stop-color="#3fa878"/></linearGradient></defs>
<rect x="660.30" y="21.20" width="6.10" height="74.60" fill="url(#hmg)" stroke="#aaa" stroke-width="0.5"/>
<text x="667.50" y="23.30" font-size="2.6" fill="#555">0.5</text>
<text x="667.50" y="42.60" font-size="2.6" fill="#555">0</text>
<text x="667.50" y="96.80" font-size="2.6" fill="#555">-1.5</text>
<rect x="660.30" y="106.20" width="6.10" height="37.70" fill="#6b62b8"/>
<rect x="660.30" y="143.90" width="6.10" height="38.00" fill="#3f9e6e"/>
<text x="667.50" y="127.40" font-size="2.8" fill="#555">DN</text>
<text x="667.50" y="164.90" font-size="2.8" fill="#555">HC</text>
<line x1="324.40" y1="287.40" x2="327.60" y2="287.40" stroke="#111" stroke-width="0.8"/>
<text x="323.20" y="289.80" font-size="6.5" text-anchor="end" font-weight="bold" fill="#111">0</text>
<line x1="324.40" y1="259.67" x2="327.60" y2="259.67" stroke="#111" stroke-width="0.8"/>
<text x="323.20" y="262.07" font-size="6.5" text-anchor="end" font-weight="bold" fill="#111">1×10<tspan font-size="3.8" dy="-2.6">8</tspan></text>
<line x1="324.40" y1="231.93" x2="327.60" y2="231.93" stroke="#111" stroke-width="0.8"/>
<text x="323.20" y="234.33" font-size="6.5" text-anchor="end" font-weight="bold" fill="#111">2×10<tspan font-size="3.8" dy="-2.6">8</tspan></text>
<line x1="324.40" y1="204.20" x2="327.60" y2="204.20" stroke="#111" stroke-width="0.8"/>
<text x="323.20" y="206.60" font-size="6.5" text-anchor="end" font-weight="bold" fill="#111">3×10<tspan font-size="3.8" dy="-2.6">8</tspan></text>
<text x="302.30" y="246.20" font-size="7.4" text-anchor="middle" fill="#111" transform="rotate(-90 302.30 246.20)">Intensity</text>
<rect x="333.30" y="278.00" width="10.40" height="9.40" fill="#808080" stroke="#111" stroke-width="0.9"/>
<rect x="350.20" y="267.30" width="10.50" height="20.10" fill="#f282b0" stroke="#f0206c" stroke-width="1.0"/>
<rect x="378.20" y="262.00" width="10.50" height="25.40" fill="#808080" stroke="#111" stroke-width="0.9"/>
<rect x="394.20" y="284.10" width="11.00" height="3.30" fill="#f282b0" stroke="#f0206c" stroke-width="1.0"/>
<line x1="338.50" y1="275.50" x2="338.50" y2="278.00" stroke="#555" stroke-width="0.7"/>
<line x1="336.50" y1="275.50" x2="340.50" y2="275.50" stroke="#555" stroke-width="0.7"/>
<circle cx="338.10" cy="281.73" r="1.6" fill="#111"/>
<circle cx="340.83" cy="279.90" r="1.6" fill="#111"/>
<circle cx="338.63" cy="272.67" r="1.6" fill="#111"/>
<circle cx="339.45" cy="281.51" r="1.6" fill="#111"/>
<circle cx="338.50" cy="280.80" r="1.6" fill="#111"/>
<circle cx="339.60" cy="279.40" r="1.6" fill="#111"/>
<circle cx="338.21" cy="285.50" r="1.6" fill="#111"/>
<circle cx="336.99" cy="280.73" r="1.6" fill="#111"/>
<circle cx="341.88" cy="278.62" r="1.6" fill="#111"/>
<circle cx="341.87" cy="275.44" r="1.6" fill="#111"/>
<circle cx="340.81" cy="286.41" r="1.6" fill="#111"/>
<circle cx="339.91" cy="283.99" r="1.6" fill="#111"/>
<circle cx="337.24" cy="286.44" r="1.6" fill="#111"/>
<circle cx="336.66" cy="275.09" r="1.6" fill="#111"/>
<circle cx="337.07" cy="277.42" r="1.6" fill="#111"/>
<circle cx="335.58" cy="286.81" r="1.6" fill="#111"/>
<circle cx="340.31" cy="271.40" r="1.6" fill="#111"/>
<circle cx="337.82" cy="271.78" r="1.6" fill="#111"/>
<circle cx="340.86" cy="278.17" r="1.6" fill="#111"/>
<circle cx="337.73" cy="278.89" r="1.6" fill="#111"/>
<circle cx="341.61" cy="285.80" r="1.6" fill="#111"/>
<circle cx="340.86" cy="286.96" r="1.6" fill="#111"/>
<circle cx="335.10" cy="280.45" r="1.6" fill="#111"/>
<circle cx="336.53" cy="286.69" r="1.6" fill="#111"/>
<circle cx="341.29" cy="285.43" r="1.6" fill="#111"/>
<circle cx="338.30" cy="284.81" r="1.6" fill="#111"/>
<circle cx="341.77" cy="286.88" r="1.6" fill="#111"/>
<circle cx="337.80" cy="281.54" r="1.6" fill="#111"/>
<circle cx="337.22" cy="271.00" r="1.6" fill="#111"/>
<line x1="355.45" y1="258.00" x2="355.45" y2="267.30" stroke="#f4608f" stroke-width="0.7"/>
<line x1="353.45" y1="258.00" x2="357.45" y2="258.00" stroke="#f4608f" stroke-width="0.7"/>
<circle cx="354.73" cy="266.65" r="1.6" fill="#f0206c"/>
<circle cx="357.86" cy="259.94" r="1.6" fill="#f0206c"/>
<circle cx="356.41" cy="280.09" r="1.6" fill="#f0206c"/>
<circle cx="352.73" cy="284.79" r="1.6" fill="#f0206c"/>
<circle cx="358.78" cy="278.08" r="1.6" fill="#f0206c"/>
<circle cx="353.50" cy="250.85" r="1.6" fill="#f0206c"/>
<circle cx="353.81" cy="260.89" r="1.6" fill="#f0206c"/>
<circle cx="357.30" cy="284.14" r="1.6" fill="#f0206c"/>
<circle cx="354.29" cy="280.79" r="1.6" fill="#f0206c"/>
<circle cx="354.07" cy="284.51" r="1.6" fill="#f0206c"/>
<circle cx="352.55" cy="285.28" r="1.6" fill="#f0206c"/>
<circle cx="352.66" cy="259.07" r="1.6" fill="#f0206c"/>
<circle cx="356.01" cy="282.71" r="1.6" fill="#f0206c"/>
<circle cx="353.70" cy="269.60" r="1.6" fill="#f0206c"/>
<circle cx="356.14" cy="274.00" r="1.6" fill="#f0206c"/>
<circle cx="354.58" cy="282.36" r="1.6" fill="#f0206c"/>
<circle cx="355.13" cy="262.10" r="1.6" fill="#f0206c"/>
<circle cx="358.57" cy="283.85" r="1.6" fill="#f0206c"/>
<circle cx="355.34" cy="266.03" r="1.6" fill="#f0206c"/>
<circle cx="355.96" cy="284.18" r="1.6" fill="#f0206c"/>
<circle cx="357.94" cy="274.99" r="1.6" fill="#f0206c"/>
<circle cx="353.29" cy="281.76" r="1.6" fill="#f0206c"/>
<circle cx="353.10" cy="280.09" r="1.6" fill="#f0206c"/>
<circle cx="358.23" cy="250.50" r="1.6" fill="#f0206c"/>
<circle cx="357.61" cy="258.77" r="1.6" fill="#f0206c"/>
<circle cx="353.75" cy="279.01" r="1.6" fill="#f0206c"/>
<circle cx="353.34" cy="254.82" r="1.6" fill="#f0206c"/>
<circle cx="357.08" cy="281.82" r="1.6" fill="#f0206c"/>
<circle cx="356.77" cy="249.00" r="1.6" fill="#f0206c"/>
<line x1="383.45" y1="239.50" x2="383.45" y2="262.00" stroke="#555" stroke-width="0.7"/>
<line x1="381.45" y1="239.50" x2="385.45" y2="239.50" stroke="#555" stroke-width="0.7"/>
<circle cx="381.25" cy="219.77" r="1.6" fill="#111"/>
<circle cx="382.56" cy="221.58" r="1.6" fill="#111"/>
<circle cx="383.94" cy="224.92" r="1.6" fill="#111"/>
<circle cx="380.94" cy="231.75" r="1.6" fill="#111"/>
<circle cx="382.51" cy="231.31" r="1.6" fill="#111"/>
<circle cx="386.11" cy="234.05" r="1.6" fill="#111"/>
<circle cx="386.72" cy="233.89" r="1.6" fill="#111"/>
<circle cx="384.52" cy="241.81" r="1.6" fill="#111"/>
<circle cx="384.75" cy="245.37" r="1.6" fill="#111"/>
<circle cx="384.02" cy="258.99" r="1.6" fill="#111"/>
<circle cx="381.00" cy="259.82" r="1.6" fill="#111"/>
<circle cx="380.29" cy="266.78" r="1.6" fill="#111"/>
<circle cx="380.17" cy="266.23" r="1.6" fill="#111"/>
<circle cx="386.24" cy="269.50" r="1.6" fill="#111"/>
<circle cx="384.82" cy="269.22" r="1.6" fill="#111"/>
<circle cx="386.60" cy="274.53" r="1.6" fill="#111"/>
<circle cx="380.19" cy="272.97" r="1.6" fill="#111"/>
<circle cx="384.38" cy="273.35" r="1.6" fill="#111"/>
<circle cx="383.33" cy="278.14" r="1.6" fill="#111"/>
<circle cx="385.02" cy="278.85" r="1.6" fill="#111"/>
<circle cx="382.22" cy="278.27" r="1.6" fill="#111"/>
<circle cx="386.85" cy="280.47" r="1.6" fill="#111"/>
<circle cx="380.56" cy="282.00" r="1.6" fill="#111"/>
<circle cx="383.76" cy="280.29" r="1.6" fill="#111"/>
<circle cx="385.06" cy="282.84" r="1.6" fill="#111"/>
<circle cx="386.17" cy="283.45" r="1.6" fill="#111"/>
<circle cx="385.06" cy="283.87" r="1.6" fill="#111"/>
<circle cx="384.84" cy="284.95" r="1.6" fill="#111"/>
<circle cx="384.33" cy="220.00" r="1.6" fill="#111"/>
<line x1="399.70" y1="278.50" x2="399.70" y2="284.10" stroke="#f4608f" stroke-width="0.7"/>
<line x1="397.70" y1="278.50" x2="401.70" y2="278.50" stroke="#f4608f" stroke-width="0.7"/>
<circle cx="397.87" cy="273.75" r="1.6" fill="#f0206c"/>
<circle cx="401.05" cy="283.52" r="1.6" fill="#f0206c"/>
<circle cx="399.68" cy="278.17" r="1.6" fill="#f0206c"/>
<circle cx="400.48" cy="274.04" r="1.6" fill="#f0206c"/>
<circle cx="402.56" cy="274.64" r="1.6" fill="#f0206c"/>
<circle cx="398.04" cy="282.59" r="1.6" fill="#f0206c"/>
<circle cx="396.38" cy="276.21" r="1.6" fill="#f0206c"/>
<circle cx="398.35" cy="274.79" r="1.6" fill="#f0206c"/>
<circle cx="400.91" cy="280.12" r="1.6" fill="#f0206c"/>
<circle cx="397.68" cy="279.23" r="1.6" fill="#f0206c"/>
<circle cx="397.45" cy="283.10" r="1.6" fill="#f0206c"/>
<circle cx="402.46" cy="279.96" r="1.6" fill="#f0206c"/>
<circle cx="400.79" cy="279.51" r="1.6" fill="#f0206c"/>
<circle cx="399.31" cy="286.56" r="1.6" fill="#f0206c"/>
<circle cx="402.36" cy="278.98" r="1.6" fill="#f0206c"/>
<circle cx="398.52" cy="272.14" r="1.6" fill="#f0206c"/>
<circle cx="400.83" cy="274.46" r="1.6" fill="#f0206c"/>
<circle cx="397.65" cy="277.38" r="1.6" fill="#f0206c"/>
<circle cx="399.23" cy="283.01" r="1.6" fill="#f0206c"/>
<circle cx="401.78" cy="277.25" r="1.6" fill="#f0206c"/>
<circle cx="402.52" cy="279.99" r="1.6" fill="#f0206c"/>
<circle cx="402.29" cy="282.24" r="1.6" fill="#f0206c"/>
<circle cx="398.91" cy="275.28" r="1.6" fill="#f0206c"/>
<circle cx="400.27" cy="286.53" r="1.6" fill="#f0206c"/>
<circle cx="398.45" cy="276.97" r="1.6" fill="#f0206c"/>
<circle cx="397.23" cy="286.89" r="1.6" fill="#f0206c"/>
<circle cx="399.68" cy="279.64" r="1.6" fill="#f0206c"/>
<circle cx="401.99" cy="281.62" r="1.6" fill="#f0206c"/>
<circle cx="400.75" cy="272.00" r="1.6" fill="#f0206c"/>
<line x1="327.60" y1="203.70" x2="327.60" y2="287.80" stroke="#000" stroke-width="1.0"/>
<line x1="327.60" y1="287.40" x2="411.20" y2="287.40" stroke="#000" stroke-width="1.0"/>
<line x1="347.10" y1="287.40" x2="347.10" y2="290.40" stroke="#000" stroke-width="0.8"/>
<line x1="391.40" y1="287.40" x2="391.40" y2="290.40" stroke="#000" stroke-width="0.8"/>
<text x="349.50" y="295.80" font-size="6.5" text-anchor="end" font-weight="bold" fill="#111" transform="rotate(-45 349.50 295.80)">Glycerol 3-phosphate</text>
<text x="393.80" y="295.80" font-size="6.5" text-anchor="end" font-weight="bold" fill="#111" transform="rotate(-45 393.80 295.80)">Glutathione</text>
<line x1="336.20" y1="245.60" x2="355.90" y2="245.60" stroke="#000" stroke-width="1.0"/>
<text x="346.05" y="246.20" font-size="11" text-anchor="middle" font-weight="bold" fill="#111" letter-spacing="0.9">***</text>
<line x1="383.20" y1="217.10" x2="399.90" y2="217.10" stroke="#000" stroke-width="1.0"/>
<text x="391.55" y="217.70" font-size="11" text-anchor="middle" font-weight="bold" fill="#111" letter-spacing="0.9">***</text>
<line x1="445.10" y1="287.40" x2="448.30" y2="287.40" stroke="#111" stroke-width="0.8"/>
<text x="443.90" y="289.80" font-size="6.5" text-anchor="end" font-weight="bold" fill="#111">0</text>
<line x1="445.10" y1="266.60" x2="448.30" y2="266.60" stroke="#111" stroke-width="0.8"/>
<text x="443.90" y="269.00" font-size="6.5" text-anchor="end" font-weight="bold" fill="#111">5×10<tspan font-size="3.8" dy="-2.6">6</tspan></text>
<line x1="445.10" y1="245.80" x2="448.30" y2="245.80" stroke="#111" stroke-width="0.8"/>
<text x="443.90" y="248.20" font-size="6.5" text-anchor="end" font-weight="bold" fill="#111">1×10<tspan font-size="3.8" dy="-2.6">7</tspan></text>
<line x1="445.10" y1="225.00" x2="448.30" y2="225.00" stroke="#111" stroke-width="0.8"/>
<text x="443.90" y="227.40" font-size="6.5" text-anchor="end" font-weight="bold" fill="#111">1.5×10<tspan font-size="3.8" dy="-2.6">7</tspan></text>
<line x1="445.10" y1="204.20" x2="448.30" y2="204.20" stroke="#111" stroke-width="0.8"/>
<text x="443.90" y="206.60" font-size="6.5" text-anchor="end" font-weight="bold" fill="#111">2×10<tspan font-size="3.8" dy="-2.6">7</tspan></text>
<text x="423.00" y="246.20" font-size="7.4" text-anchor="middle" fill="#111" transform="rotate(-90 423.00 246.20)">Intensity</text>
<rect x="453.80" y="272.10" width="10.90" height="15.30" fill="#808080" stroke="#111" stroke-width="0.9"/>
<rect x="470.20" y="253.50" width="11.00" height="33.90" fill="#f282b0" stroke="#f0206c" stroke-width="1.0"/>
<rect x="498.00" y="266.60" width="11.00" height="20.80" fill="#808080" stroke="#111" stroke-width="0.9"/>
<rect x="514.00" y="282.00" width="11.00" height="5.40" fill="#f282b0" stroke="#f0206c" stroke-width="1.0"/>
<line x1="459.25" y1="266.00" x2="459.25" y2="272.10" stroke="#555" stroke-width="0.7"/>
<line x1="457.25" y1="266.00" x2="461.25" y2="266.00" stroke="#555" stroke-width="0.7"/>
<circle cx="456.81" cy="269.62" r="1.6" fill="#111"/>
<circle cx="456.17" cy="260.94" r="1.6" fill="#111"/>
<circle cx="460.13" cy="282.36" r="1.6" fill="#111"/>
<circle cx="458.89" cy="284.67" r="1.6" fill="#111"/>
<circle cx="460.13" cy="277.83" r="1.6" fill="#111"/>
<circle cx="460.30" cy="282.40" r="1.6" fill="#111"/>
<circle cx="461.34" cy="283.76" r="1.6" fill="#111"/>
<circle cx="462.37" cy="278.85" r="1.6" fill="#111"/>
<circle cx="460.50" cy="272.48" r="1.6" fill="#111"/>
<circle cx="457.21" cy="276.57" r="1.6" fill="#111"/>
<circle cx="459.08" cy="281.43" r="1.6" fill="#111"/>
<circle cx="457.07" cy="265.10" r="1.6" fill="#111"/>
<circle cx="455.92" cy="259.70" r="1.6" fill="#111"/>
<circle cx="459.06" cy="277.77" r="1.6" fill="#111"/>
<circle cx="460.71" cy="286.26" r="1.6" fill="#111"/>
<circle cx="457.07" cy="286.78" r="1.6" fill="#111"/>
<circle cx="457.70" cy="263.85" r="1.6" fill="#111"/>
<circle cx="458.20" cy="286.67" r="1.6" fill="#111"/>
<circle cx="460.59" cy="269.71" r="1.6" fill="#111"/>
<circle cx="459.39" cy="274.24" r="1.6" fill="#111"/>
<circle cx="460.03" cy="281.59" r="1.6" fill="#111"/>
<circle cx="460.99" cy="266.82" r="1.6" fill="#111"/>
<circle cx="458.53" cy="286.89" r="1.6" fill="#111"/>
<circle cx="461.24" cy="285.29" r="1.6" fill="#111"/>
<circle cx="462.01" cy="277.71" r="1.6" fill="#111"/>
<circle cx="456.44" cy="286.84" r="1.6" fill="#111"/>
<circle cx="462.19" cy="265.44" r="1.6" fill="#111"/>
<circle cx="460.76" cy="283.26" r="1.6" fill="#111"/>
<circle cx="458.14" cy="259.00" r="1.6" fill="#111"/>
<line x1="475.70" y1="241.00" x2="475.70" y2="253.50" stroke="#f4608f" stroke-width="0.7"/>
<line x1="473.70" y1="241.00" x2="477.70" y2="241.00" stroke="#f4608f" stroke-width="0.7"/>
<circle cx="477.52" cy="265.17" r="1.6" fill="#f0206c"/>
<circle cx="475.61" cy="253.33" r="1.6" fill="#f0206c"/>
<circle cx="472.49" cy="230.80" r="1.6" fill="#f0206c"/>
<circle cx="477.80" cy="269.93" r="1.6" fill="#f0206c"/>
<circle cx="472.74" cy="257.40" r="1.6" fill="#f0206c"/>
<circle cx="477.74" cy="233.38" r="1.6" fill="#f0206c"/>
<circle cx="473.48" cy="240.16" r="1.6" fill="#f0206c"/>
<circle cx="474.58" cy="227.86" r="1.6" fill="#f0206c"/>
<circle cx="477.66" cy="264.52" r="1.6" fill="#f0206c"/>
<circle cx="473.26" cy="251.43" r="1.6" fill="#f0206c"/>
<circle cx="473.31" cy="279.15" r="1.6" fill="#f0206c"/>
<circle cx="475.81" cy="246.08" r="1.6" fill="#f0206c"/>
<circle cx="477.22" cy="238.42" r="1.6" fill="#f0206c"/>
<circle cx="478.01" cy="252.15" r="1.6" fill="#f0206c"/>
<circle cx="476.99" cy="246.41" r="1.6" fill="#f0206c"/>
<circle cx="478.73" cy="278.76" r="1.6" fill="#f0206c"/>
<circle cx="475.65" cy="231.64" r="1.6" fill="#f0206c"/>
<circle cx="478.75" cy="224.71" r="1.6" fill="#f0206c"/>
<circle cx="472.88" cy="224.99" r="1.6" fill="#f0206c"/>
<circle cx="473.81" cy="259.62" r="1.6" fill="#f0206c"/>
<circle cx="475.88" cy="240.65" r="1.6" fill="#f0206c"/>
<circle cx="474.27" cy="273.20" r="1.6" fill="#f0206c"/>
<circle cx="477.26" cy="230.79" r="1.6" fill="#f0206c"/>
<circle cx="476.64" cy="235.34" r="1.6" fill="#f0206c"/>
<circle cx="475.85" cy="271.60" r="1.6" fill="#f0206c"/>
<circle cx="478.04" cy="284.08" r="1.6" fill="#f0206c"/>
<circle cx="476.11" cy="265.98" r="1.6" fill="#f0206c"/>
<circle cx="474.42" cy="258.70" r="1.6" fill="#f0206c"/>
<circle cx="475.34" cy="223.00" r="1.6" fill="#f0206c"/>
<line x1="503.50" y1="248.00" x2="503.50" y2="266.60" stroke="#555" stroke-width="0.7"/>
<line x1="501.50" y1="248.00" x2="505.50" y2="248.00" stroke="#555" stroke-width="0.7"/>
<circle cx="505.65" cy="243.53" r="1.6" fill="#111"/>
<circle cx="506.22" cy="239.50" r="1.6" fill="#111"/>
<circle cx="503.34" cy="280.89" r="1.6" fill="#111"/>
<circle cx="502.26" cy="243.14" r="1.6" fill="#111"/>
<circle cx="501.40" cy="234.41" r="1.6" fill="#111"/>
<circle cx="504.30" cy="264.73" r="1.6" fill="#111"/>
<circle cx="506.39" cy="261.78" r="1.6" fill="#111"/>
<circle cx="500.98" cy="281.18" r="1.6" fill="#111"/>
<circle cx="505.40" cy="264.03" r="1.6" fill="#111"/>
<circle cx="500.25" cy="265.97" r="1.6" fill="#111"/>
<circle cx="501.42" cy="259.77" r="1.6" fill="#111"/>
<circle cx="501.65" cy="286.64" r="1.6" fill="#111"/>
<circle cx="504.77" cy="234.34" r="1.6" fill="#111"/>
<circle cx="502.29" cy="265.22" r="1.6" fill="#111"/>
<circle cx="502.52" cy="271.72" r="1.6" fill="#111"/>
<circle cx="504.31" cy="246.68" r="1.6" fill="#111"/>
<circle cx="500.81" cy="262.40" r="1.6" fill="#111"/>
<circle cx="505.07" cy="266.68" r="1.6" fill="#111"/>
<circle cx="500.93" cy="254.22" r="1.6" fill="#111"/>
<circle cx="503.57" cy="285.78" r="1.6" fill="#111"/>
<circle cx="501.80" cy="263.87" r="1.6" fill="#111"/>
<circle cx="501.44" cy="271.01" r="1.6" fill="#111"/>
<circle cx="503.71" cy="235.29" r="1.6" fill="#111"/>
<circle cx="503.07" cy="237.81" r="1.6" fill="#111"/>
<circle cx="502.66" cy="278.24" r="1.6" fill="#111"/>
<circle cx="502.91" cy="267.71" r="1.6" fill="#111"/>
<circle cx="503.70" cy="283.94" r="1.6" fill="#111"/>
<circle cx="501.19" cy="269.92" r="1.6" fill="#111"/>
<circle cx="502.61" cy="232.00" r="1.6" fill="#111"/>
<line x1="519.50" y1="276.00" x2="519.50" y2="282.00" stroke="#f4608f" stroke-width="0.7"/>
<line x1="517.50" y1="276.00" x2="521.50" y2="276.00" stroke="#f4608f" stroke-width="0.7"/>
<circle cx="517.47" cy="277.02" r="1.6" fill="#f0206c"/>
<circle cx="520.74" cy="276.86" r="1.6" fill="#f0206c"/>
<circle cx="522.30" cy="279.20" r="1.6" fill="#f0206c"/>
<circle cx="522.68" cy="271.84" r="1.6" fill="#f0206c"/>
<circle cx="516.88" cy="277.45" r="1.6" fill="#f0206c"/>
<circle cx="519.54" cy="271.70" r="1.6" fill="#f0206c"/>
<circle cx="521.26" cy="284.53" r="1.6" fill="#f0206c"/>
<circle cx="519.52" cy="274.52" r="1.6" fill="#f0206c"/>
<circle cx="520.76" cy="272.84" r="1.6" fill="#f0206c"/>
<circle cx="517.39" cy="270.54" r="1.6" fill="#f0206c"/>
<circle cx="516.58" cy="283.21" r="1.6" fill="#f0206c"/>
<circle cx="516.82" cy="283.23" r="1.6" fill="#f0206c"/>
<circle cx="516.35" cy="270.02" r="1.6" fill="#f0206c"/>
<circle cx="519.85" cy="284.75" r="1.6" fill="#f0206c"/>
<circle cx="519.60" cy="268.04" r="1.6" fill="#f0206c"/>
<circle cx="519.97" cy="270.92" r="1.6" fill="#f0206c"/>
<circle cx="517.10" cy="285.86" r="1.6" fill="#f0206c"/>
<circle cx="517.35" cy="284.43" r="1.6" fill="#f0206c"/>
<circle cx="517.49" cy="274.85" r="1.6" fill="#f0206c"/>
<circle cx="521.81" cy="284.13" r="1.6" fill="#f0206c"/>
<circle cx="522.83" cy="286.28" r="1.6" fill="#f0206c"/>
<circle cx="522.40" cy="272.31" r="1.6" fill="#f0206c"/>
<circle cx="516.75" cy="281.33" r="1.6" fill="#f0206c"/>
<circle cx="516.52" cy="273.34" r="1.6" fill="#f0206c"/>
<circle cx="522.57" cy="285.95" r="1.6" fill="#f0206c"/>
<circle cx="519.24" cy="281.68" r="1.6" fill="#f0206c"/>
<circle cx="521.30" cy="275.81" r="1.6" fill="#f0206c"/>
<circle cx="518.32" cy="286.93" r="1.6" fill="#f0206c"/>
<circle cx="519.40" cy="268.00" r="1.6" fill="#f0206c"/>
<line x1="448.30" y1="203.70" x2="448.30" y2="287.80" stroke="#000" stroke-width="1.0"/>
<line x1="448.30" y1="287.40" x2="531.10" y2="287.40" stroke="#000" stroke-width="1.0"/>
<line x1="467.50" y1="287.40" x2="467.50" y2="290.40" stroke="#000" stroke-width="0.8"/>
<line x1="511.50" y1="287.40" x2="511.50" y2="290.40" stroke="#000" stroke-width="0.8"/>
<text x="469.90" y="295.80" font-size="6.5" text-anchor="end" font-weight="bold" fill="#111" transform="rotate(-45 469.90 295.80)">Glycerone phosphate</text>
<text x="513.90" y="295.80" font-size="6.5" text-anchor="end" font-weight="bold" fill="#111" transform="rotate(-45 513.90 295.80)">Cystine</text>
<line x1="456.40" y1="217.00" x2="475.70" y2="217.00" stroke="#000" stroke-width="1.0"/>
<text x="466.05" y="217.60" font-size="11" text-anchor="middle" font-weight="bold" fill="#111" letter-spacing="0.9">***</text>
<line x1="504.00" y1="228.80" x2="520.60" y2="228.80" stroke="#000" stroke-width="1.0"/>
<text x="512.30" y="229.40" font-size="11" text-anchor="middle" font-weight="bold" fill="#111" letter-spacing="0.9">***</text>
<line x1="570.80" y1="287.40" x2="574.00" y2="287.40" stroke="#111" stroke-width="0.8"/>
<text x="569.60" y="289.80" font-size="6.5" text-anchor="end" font-weight="bold" fill="#111">0</text>
<line x1="570.80" y1="266.60" x2="574.00" y2="266.60" stroke="#111" stroke-width="0.8"/>
<text x="569.60" y="269.00" font-size="6.5" text-anchor="end" font-weight="bold" fill="#111">1×10<tspan font-size="3.8" dy="-2.6">6</tspan></text>
<line x1="570.80" y1="245.80" x2="574.00" y2="245.80" stroke="#111" stroke-width="0.8"/>
<text x="569.60" y="248.20" font-size="6.5" text-anchor="end" font-weight="bold" fill="#111">2×10<tspan font-size="3.8" dy="-2.6">6</tspan></text>
<line x1="570.80" y1="225.00" x2="574.00" y2="225.00" stroke="#111" stroke-width="0.8"/>
<text x="569.60" y="227.40" font-size="6.5" text-anchor="end" font-weight="bold" fill="#111">3×10<tspan font-size="3.8" dy="-2.6">6</tspan></text>
<line x1="570.80" y1="204.20" x2="574.00" y2="204.20" stroke="#111" stroke-width="0.8"/>
<text x="569.60" y="206.60" font-size="6.5" text-anchor="end" font-weight="bold" fill="#111">4×10<tspan font-size="3.8" dy="-2.6">6</tspan></text>
<text x="548.70" y="246.20" font-size="7.4" text-anchor="middle" fill="#111" transform="rotate(-90 548.70 246.20)">Intensity</text>
<rect x="579.90" y="255.70" width="10.50" height="31.70" fill="#808080" stroke="#111" stroke-width="0.9"/>
<rect x="595.90" y="285.20" width="10.90" height="2.20" fill="#f282b0" stroke="#f0206c" stroke-width="1.0"/>
<rect x="624.30" y="264.90" width="10.30" height="22.50" fill="#808080" stroke="#111" stroke-width="0.9"/>
<rect x="640.10" y="274.30" width="10.90" height="13.10" fill="#f282b0" stroke="#f0206c" stroke-width="1.0"/>
<line x1="585.15" y1="237.00" x2="585.15" y2="255.70" stroke="#555" stroke-width="0.7"/>
<line x1="583.15" y1="237.00" x2="587.15" y2="237.00" stroke="#555" stroke-width="0.7"/>
<circle cx="587.29" cy="225.04" r="1.6" fill="#111"/>
<circle cx="584.51" cy="228.83" r="1.6" fill="#111"/>
<circle cx="587.85" cy="229.24" r="1.6" fill="#111"/>
<circle cx="587.73" cy="230.83" r="1.6" fill="#111"/>
<circle cx="586.47" cy="232.48" r="1.6" fill="#111"/>
<circle cx="586.97" cy="232.83" r="1.6" fill="#111"/>
<circle cx="586.95" cy="234.24" r="1.6" fill="#111"/>
<circle cx="584.51" cy="234.89" r="1.6" fill="#111"/>
<circle cx="586.66" cy="235.57" r="1.6" fill="#111"/>
<circle cx="582.23" cy="239.77" r="1.6" fill="#111"/>
<circle cx="584.07" cy="239.27" r="1.6" fill="#111"/>
<circle cx="584.94" cy="239.20" r="1.6" fill="#111"/>
<circle cx="581.82" cy="243.03" r="1.6" fill="#111"/>
<circle cx="584.17" cy="241.84" r="1.6" fill="#111"/>
<circle cx="586.09" cy="256.94" r="1.6" fill="#111"/>
<circle cx="585.99" cy="260.72" r="1.6" fill="#111"/>
<circle cx="583.33" cy="260.49" r="1.6" fill="#111"/>
<circle cx="588.17" cy="263.87" r="1.6" fill="#111"/>
<circle cx="586.28" cy="270.31" r="1.6" fill="#111"/>
<circle cx="584.05" cy="269.77" r="1.6" fill="#111"/>
<circle cx="586.24" cy="274.24" r="1.6" fill="#111"/>
<circle cx="585.62" cy="274.01" r="1.6" fill="#111"/>
<circle cx="585.37" cy="284.16" r="1.6" fill="#111"/>
<circle cx="584.40" cy="283.73" r="1.6" fill="#111"/>
<circle cx="588.55" cy="282.42" r="1.6" fill="#111"/>
<circle cx="586.12" cy="285.99" r="1.6" fill="#111"/>
<circle cx="586.52" cy="285.59" r="1.6" fill="#111"/>
<circle cx="586.93" cy="285.67" r="1.6" fill="#111"/>
<circle cx="586.59" cy="224.00" r="1.6" fill="#111"/>
<line x1="601.35" y1="281.00" x2="601.35" y2="285.20" stroke="#f4608f" stroke-width="0.7"/>
<line x1="599.35" y1="281.00" x2="603.35" y2="281.00" stroke="#f4608f" stroke-width="0.7"/>
<circle cx="598.35" cy="287.50" r="1.6" fill="#f0206c"/>
<circle cx="604.38" cy="284.53" r="1.6" fill="#f0206c"/>
<circle cx="600.81" cy="282.72" r="1.6" fill="#f0206c"/>
<circle cx="601.53" cy="287.19" r="1.6" fill="#f0206c"/>
<circle cx="602.02" cy="286.52" r="1.6" fill="#f0206c"/>
<circle cx="600.44" cy="287.50" r="1.6" fill="#f0206c"/>
<circle cx="599.89" cy="287.35" r="1.6" fill="#f0206c"/>
<circle cx="602.40" cy="286.68" r="1.6" fill="#f0206c"/>
<circle cx="601.76" cy="287.47" r="1.6" fill="#f0206c"/>
<circle cx="599.88" cy="287.21" r="1.6" fill="#f0206c"/>
<circle cx="602.82" cy="279.39" r="1.6" fill="#f0206c"/>
<circle cx="599.96" cy="285.28" r="1.6" fill="#f0206c"/>
<circle cx="598.05" cy="285.70" r="1.6" fill="#f0206c"/>
<circle cx="599.62" cy="277.87" r="1.6" fill="#f0206c"/>
<circle cx="598.24" cy="285.09" r="1.6" fill="#f0206c"/>
<circle cx="599.01" cy="277.13" r="1.6" fill="#f0206c"/>
<circle cx="603.08" cy="284.24" r="1.6" fill="#f0206c"/>
<circle cx="600.60" cy="281.44" r="1.6" fill="#f0206c"/>
<circle cx="604.05" cy="287.49" r="1.6" fill="#f0206c"/>
<circle cx="603.04" cy="284.75" r="1.6" fill="#f0206c"/>
<circle cx="598.29" cy="282.37" r="1.6" fill="#f0206c"/>
<circle cx="604.67" cy="287.50" r="1.6" fill="#f0206c"/>
<circle cx="604.37" cy="278.80" r="1.6" fill="#f0206c"/>
<circle cx="598.45" cy="287.41" r="1.6" fill="#f0206c"/>
<circle cx="604.11" cy="286.01" r="1.6" fill="#f0206c"/>
<circle cx="600.87" cy="287.40" r="1.6" fill="#f0206c"/>
<circle cx="601.20" cy="285.81" r="1.6" fill="#f0206c"/>
<circle cx="604.57" cy="284.58" r="1.6" fill="#f0206c"/>
<circle cx="600.58" cy="277.00" r="1.6" fill="#f0206c"/>
<line x1="629.45" y1="246.00" x2="629.45" y2="264.90" stroke="#555" stroke-width="0.7"/>
<line x1="627.45" y1="246.00" x2="631.45" y2="246.00" stroke="#555" stroke-width="0.7"/>
<circle cx="631.38" cy="225.06" r="1.6" fill="#111"/>
<circle cx="630.30" cy="229.05" r="1.6" fill="#111"/>
<circle cx="628.49" cy="228.53" r="1.6" fill="#111"/>
<circle cx="627.90" cy="240.42" r="1.6" fill="#111"/>
<circle cx="630.71" cy="243.75" r="1.6" fill="#111"/>
<circle cx="629.89" cy="253.16" r="1.6" fill="#111"/>
<circle cx="630.07" cy="252.65" r="1.6" fill="#111"/>
<circle cx="630.36" cy="254.78" r="1.6" fill="#111"/>
<circle cx="631.17" cy="256.00" r="1.6" fill="#111"/>
<circle cx="627.34" cy="255.59" r="1.6" fill="#111"/>
<circle cx="627.74" cy="259.29" r="1.6" fill="#111"/>
<circle cx="632.71" cy="258.92" r="1.6" fill="#111"/>
<circle cx="632.28" cy="265.07" r="1.6" fill="#111"/>
<circle cx="632.03" cy="264.10" r="1.6" fill="#111"/>
<circle cx="626.32" cy="268.86" r="1.6" fill="#111"/>
<circle cx="626.46" cy="269.40" r="1.6" fill="#111"/>
<circle cx="627.89" cy="272.89" r="1.6" fill="#111"/>
<circle cx="628.94" cy="272.43" r="1.6" fill="#111"/>
<circle cx="630.29" cy="277.20" r="1.6" fill="#111"/>
<circle cx="626.75" cy="276.81" r="1.6" fill="#111"/>
<circle cx="629.73" cy="277.67" r="1.6" fill="#111"/>
<circle cx="626.54" cy="281.07" r="1.6" fill="#111"/>
<circle cx="626.64" cy="282.19" r="1.6" fill="#111"/>
<circle cx="630.65" cy="282.09" r="1.6" fill="#111"/>
<circle cx="629.79" cy="284.56" r="1.6" fill="#111"/>
<circle cx="630.34" cy="283.37" r="1.6" fill="#111"/>
<circle cx="628.59" cy="285.07" r="1.6" fill="#111"/>
<circle cx="629.30" cy="286.94" r="1.6" fill="#111"/>
<circle cx="628.58" cy="224.00" r="1.6" fill="#111"/>
<line x1="645.55" y1="267.00" x2="645.55" y2="274.30" stroke="#f4608f" stroke-width="0.7"/>
<line x1="643.55" y1="267.00" x2="647.55" y2="267.00" stroke="#f4608f" stroke-width="0.7"/>
<circle cx="644.18" cy="279.38" r="1.6" fill="#f0206c"/>
<circle cx="647.42" cy="264.49" r="1.6" fill="#f0206c"/>
<circle cx="642.67" cy="260.43" r="1.6" fill="#f0206c"/>
<circle cx="643.60" cy="286.11" r="1.6" fill="#f0206c"/>
<circle cx="646.65" cy="285.26" r="1.6" fill="#f0206c"/>
<circle cx="642.71" cy="261.72" r="1.6" fill="#f0206c"/>
<circle cx="644.22" cy="269.44" r="1.6" fill="#f0206c"/>
<circle cx="647.08" cy="263.47" r="1.6" fill="#f0206c"/>
<circle cx="646.87" cy="283.09" r="1.6" fill="#f0206c"/>
<circle cx="644.07" cy="276.76" r="1.6" fill="#f0206c"/>
<circle cx="643.12" cy="281.90" r="1.6" fill="#f0206c"/>
<circle cx="644.58" cy="261.69" r="1.6" fill="#f0206c"/>
<circle cx="647.09" cy="278.58" r="1.6" fill="#f0206c"/>
<circle cx="644.64" cy="268.25" r="1.6" fill="#f0206c"/>
<circle cx="642.95" cy="253.51" r="1.6" fill="#f0206c"/>
<circle cx="646.97" cy="279.94" r="1.6" fill="#f0206c"/>
<circle cx="646.02" cy="272.33" r="1.6" fill="#f0206c"/>
<circle cx="648.40" cy="264.44" r="1.6" fill="#f0206c"/>
<circle cx="648.54" cy="256.71" r="1.6" fill="#f0206c"/>
<circle cx="648.36" cy="276.65" r="1.6" fill="#f0206c"/>
<circle cx="645.13" cy="278.57" r="1.6" fill="#f0206c"/>
<circle cx="647.61" cy="285.70" r="1.6" fill="#f0206c"/>
<circle cx="644.22" cy="258.79" r="1.6" fill="#f0206c"/>
<circle cx="644.31" cy="286.04" r="1.6" fill="#f0206c"/>
<circle cx="644.87" cy="285.96" r="1.6" fill="#f0206c"/>
<circle cx="648.51" cy="271.74" r="1.6" fill="#f0206c"/>
<circle cx="648.23" cy="274.66" r="1.6" fill="#f0206c"/>
<circle cx="643.84" cy="266.97" r="1.6" fill="#f0206c"/>
<circle cx="645.14" cy="253.00" r="1.6" fill="#f0206c"/>
<line x1="574.00" y1="203.70" x2="574.00" y2="287.80" stroke="#000" stroke-width="1.0"/>
<line x1="574.00" y1="287.40" x2="656.50" y2="287.40" stroke="#000" stroke-width="1.0"/>
<line x1="593.20" y1="287.40" x2="593.20" y2="290.40" stroke="#000" stroke-width="0.8"/>
<line x1="637.50" y1="287.40" x2="637.50" y2="290.40" stroke="#000" stroke-width="0.8"/>
<text x="595.60" y="295.80" font-size="6.5" text-anchor="end" font-weight="bold" fill="#111" transform="rotate(-45 595.60 295.80)">Serine</text>
<text x="639.90" y="295.80" font-size="6.5" text-anchor="end" font-weight="bold" fill="#111" transform="rotate(-45 639.90 295.80)">Phosphorylcholine</text>
<line x1="585.80" y1="220.20" x2="601.30" y2="220.20" stroke="#000" stroke-width="1.0"/>
<text x="593.55" y="220.80" font-size="11" text-anchor="middle" font-weight="bold" fill="#111" letter-spacing="0.9">***</text>
<line x1="629.80" y1="221.70" x2="646.70" y2="221.70" stroke="#000" stroke-width="1.0"/>
<text x="638.25" y="222.30" font-size="11" text-anchor="middle" font-weight="bold" fill="#111" letter-spacing="0.9">*</text>
<circle cx="663.60" cy="209.70" r="1.5" fill="#111"/>
<text x="673.00" y="211.80" font-size="6.8" fill="#333">HC</text>
<circle cx="663.60" cy="220.70" r="1.5" fill="#f0206c"/>
<text x="673.00" y="222.80" font-size="6.8" fill="#333">DN</text>
<path d="M61.41,299.22 L61.71,301.83 L65.62,302.83 L68.42,304.04 L69.73,306.24 L70.53,310.65 L71.33,315.17 L73.34,319.68 L75.54,323.49 L77.95,325.69 L80.25,327.40 L80.45,329.30 L79.65,331.31 L77.95,332.41 L76.54,330.71 L75.74,329.30 L72.94,324.29 L70.33,318.67 L68.72,314.66 L67.52,311.26 L66.92,314.66 L66.12,319.68 L66.32,324.19 L67.02,328.20 L66.92,335.72 L66.12,342.74 L65.92,348.25 L66.12,352.76 L65.32,357.77 L64.51,362.99 L66.12,365.19 L67.12,366.60 L65.52,367.70 L62.31,367.50 L62.31,362.99 L62.11,357.77 L62.11,352.76 L61.91,346.04 L60.50,335.72 L59.10,331.21 L59.10,331.21 L57.70,335.72 L56.29,346.04 L56.09,352.76 L56.09,357.77 L55.89,362.99 L55.89,367.50 L52.68,367.70 L51.08,366.60 L52.08,365.19 L53.69,362.99 L52.88,357.77 L52.08,352.76 L52.28,348.25 L52.08,342.74 L51.28,335.72 L51.18,328.20 L51.88,324.19 L52.08,319.68 L51.28,314.66 L50.68,311.26 L49.48,314.66 L47.87,318.67 L45.26,324.29 L42.46,329.30 L41.66,330.71 L40.25,332.41 L38.55,331.31 L37.75,329.30 L37.95,327.40 L40.25,325.69 L42.66,323.49 L44.86,319.68 L46.87,315.17 L47.67,310.65 L48.47,306.24 L49.78,304.04 L52.58,302.83 L56.49,301.83 L56.79,299.22 Z" fill="#b5b5dc" stroke="#b5b5dc" stroke-width="0.8" stroke-linejoin="round"/>
<ellipse cx="59.10" cy="294.61" rx="4.11" ry="5.01" fill="#b5b5dc"/>
<path d="M62.55,392.80 L62.85,395.45 L66.83,396.47 L69.69,397.70 L71.02,399.94 L71.83,404.43 L72.65,409.02 L74.69,413.62 L76.94,417.49 L79.39,419.74 L81.73,421.47 L81.94,423.41 L81.12,425.45 L79.39,426.58 L77.96,424.84 L77.14,423.41 L74.28,418.31 L71.63,412.59 L70.00,408.51 L68.77,405.04 L68.16,408.51 L67.34,413.62 L67.55,418.21 L68.26,422.29 L68.16,429.94 L67.34,437.09 L67.14,442.70 L67.34,447.29 L66.53,452.39 L65.71,457.70 L67.34,459.95 L68.36,461.38 L66.73,462.50 L63.47,462.29 L63.47,457.70 L63.26,452.39 L63.26,447.29 L63.06,440.45 L61.63,429.94 L60.20,425.35 L60.20,425.35 L58.77,429.94 L57.34,440.45 L57.14,447.29 L57.14,452.39 L56.93,457.70 L56.93,462.29 L53.67,462.50 L52.04,461.38 L53.06,459.95 L54.69,457.70 L53.87,452.39 L53.06,447.29 L53.26,442.70 L53.06,437.09 L52.24,429.94 L52.14,422.29 L52.85,418.21 L53.06,413.62 L52.24,408.51 L51.63,405.04 L50.40,408.51 L48.77,412.59 L46.12,418.31 L43.26,423.41 L42.44,424.84 L41.01,426.58 L39.28,425.45 L38.46,423.41 L38.67,421.47 L41.01,419.74 L43.46,417.49 L45.71,413.62 L47.75,409.02 L48.57,404.43 L49.38,399.94 L50.71,397.70 L53.57,396.47 L57.55,395.45 L57.85,392.80 Z" fill="#a8c8b2" stroke="#a8c8b2" stroke-width="0.8" stroke-linejoin="round"/>
<ellipse cx="60.20" cy="388.10" rx="4.18" ry="5.10" fill="#a8c8b2"/>
<text x="106.60" y="366.40" font-size="10.6" text-anchor="middle" fill="#222">(n=28)</text>
<text x="106.30" y="461.20" font-size="10.6" text-anchor="middle" fill="#222">(n=28)</text>
<text x="244.60" y="273.95" font-size="4.25" fill="#5cc55c">HC3</text>
<text x="244.60" y="278.61" font-size="4.25" fill="#5cc55c">HC2</text>
<text x="244.60" y="283.26" font-size="4.25" fill="#5cc55c">HC11</text>
<text x="244.60" y="287.92" font-size="4.25" fill="#5cc55c">HC7</text>
<text x="244.60" y="292.57" font-size="4.25" fill="#5cc55c">HC17</text>
<text x="244.60" y="297.23" font-size="4.25" fill="#5cc55c">HC6</text>
<text x="244.60" y="301.89" font-size="4.25" fill="#5cc55c">HC22</text>
<text x="244.60" y="306.54" font-size="4.25" fill="#5cc55c">HC28</text>
<text x="244.60" y="311.20" font-size="4.25" fill="#5cc55c">HC23</text>
<text x="244.60" y="315.85" font-size="4.25" fill="#5cc55c">HC26</text>
<text x="244.60" y="320.51" font-size="4.25" fill="#5cc55c">HC21</text>
<text x="244.60" y="325.17" font-size="4.25" fill="#5cc55c">HC8</text>
<text x="244.60" y="329.82" font-size="4.25" fill="#5cc55c">HC9</text>
<text x="244.60" y="334.48" font-size="4.25" fill="#5cc55c">HC12</text>
<text x="244.60" y="339.13" font-size="4.25" fill="#5cc55c">HC5</text>
<text x="244.60" y="343.79" font-size="4.25" fill="#5cc55c">HC15</text>
<text x="244.60" y="348.45" font-size="4.25" fill="#5cc55c">HC19</text>
<text x="244.60" y="353.10" font-size="4.25" fill="#5cc55c">HC18</text>
<text x="244.60" y="357.76" font-size="4.25" fill="#5cc55c">HC20</text>
<text x="244.60" y="362.41" font-size="4.25" fill="#5cc55c">HC16</text>
<text x="244.60" y="367.07" font-size="4.25" fill="#5cc55c">HC10</text>
<text x="244.60" y="371.73" font-size="4.25" fill="#5cc55c">HC1</text>
<text x="244.60" y="376.38" font-size="4.25" fill="#5cc55c">HC25</text>
<text x="244.60" y="381.04" font-size="4.25" fill="#5cc55c">HC13</text>
<text x="244.60" y="385.69" font-size="4.25" fill="#5cc55c">HC27</text>
<text x="244.60" y="390.35" font-size="4.25" fill="#5cc55c">HC24</text>
<text x="244.60" y="395.01" font-size="4.25" fill="#5cc55c">HC14</text>
<text x="244.60" y="399.66" font-size="4.25" fill="#5cc55c">HC4</text>
<text x="244.60" y="404.32" font-size="4.25" fill="#d8245e">DN27</text>
<text x="244.60" y="408.97" font-size="4.25" fill="#d8245e">DN17</text>
<text x="244.60" y="413.63" font-size="4.25" fill="#d8245e">DN12</text>
<text x="244.60" y="418.29" font-size="4.25" fill="#d8245e">DN13</text>
<text x="244.60" y="422.94" font-size="4.25" fill="#d8245e">DN18</text>
<text x="244.60" y="427.60" font-size="4.25" fill="#d8245e">DN16</text>
<text x="244.60" y="432.25" font-size="4.25" fill="#d8245e">DN24</text>
<text x="244.60" y="436.91" font-size="4.25" fill="#d8245e">DN21</text>
<text x="244.60" y="441.57" font-size="4.25" fill="#d8245e">DN28</text>
<text x="244.60" y="446.22" font-size="4.25" fill="#d8245e">DN1</text>
<text x="244.60" y="450.88" font-size="4.25" fill="#d8245e">DN9</text>
<text x="244.60" y="455.53" font-size="4.25" fill="#d8245e">DN7</text>
<text x="244.60" y="460.19" font-size="4.25" fill="#d8245e">DN23</text>
<text x="244.60" y="464.85" font-size="4.25" fill="#d8245e">DN19</text>
<text x="244.60" y="469.50" font-size="4.25" fill="#d8245e">DN22</text>
<text x="244.60" y="474.16" font-size="4.25" fill="#d8245e">DN2</text>
<text x="244.60" y="478.81" font-size="4.25" fill="#d8245e">DN20</text>
<text x="244.60" y="483.47" font-size="4.25" fill="#d8245e">DN10</text>
<text x="244.60" y="488.13" font-size="4.25" fill="#d8245e">DN11</text>
<text x="244.60" y="492.78" font-size="4.25" fill="#d8245e">DN3</text>
<text x="244.60" y="497.44" font-size="4.25" fill="#d8245e">DN6</text>
<text x="244.60" y="502.09" font-size="4.25" fill="#d8245e">DN5</text>
<text x="244.60" y="506.75" font-size="4.25" fill="#d8245e">DN14</text>
<text x="244.60" y="511.41" font-size="4.25" fill="#d8245e">DN25</text>
<text x="244.60" y="516.06" font-size="4.25" fill="#d8245e">DN4</text>
<text x="244.60" y="520.72" font-size="4.25" fill="#d8245e">DN15</text>
<text x="244.60" y="525.37" font-size="4.25" fill="#d8245e">DN8</text>
<text x="244.60" y="530.03" font-size="4.25" fill="#d8245e">DN26</text>
<path d="M237.40,272.40L242.10,272.40 M237.40,277.06L242.10,277.06 M237.40,272.40L237.40,277.06 M239.70,281.71L242.10,281.71 M239.70,286.37L242.10,286.37 M239.70,281.71L239.70,286.37 M233.40,274.73L237.40,274.73 M233.40,284.04L239.70,284.04 M233.40,274.73L233.40,284.04 M240.20,291.02L242.10,291.02 M240.20,295.68L242.10,295.68 M240.20,291.02L240.20,295.68 M238.00,293.35L240.20,293.35 M238.00,300.34L242.10,300.34 M238.00,293.35L238.00,300.34 M227.80,279.38L233.40,279.38 M227.80,296.84L238.00,296.84 M227.80,279.38L227.80,296.84 M237.40,304.99L242.10,304.99 M237.40,309.65L242.10,309.65 M237.40,304.99L237.40,309.65 M233.00,307.32L237.40,307.32 M233.00,314.30L242.10,314.30 M233.00,307.32L233.00,314.30 M222.50,288.11L227.80,288.11 M222.50,310.81L233.00,310.81 M222.50,288.11L222.50,310.81 M235.70,318.96L242.10,318.96 M235.70,323.62L242.10,323.62 M235.70,318.96L235.70,323.62 M232.20,321.29L235.70,321.29 M232.20,328.27L242.10,328.27 M232.20,321.29L232.20,328.27 M214.60,299.46L222.50,299.46 M214.60,324.78L232.20,324.78 M214.60,299.46L214.60,324.78 M236.50,332.93L242.10,332.93 M236.50,337.58L242.10,337.58 M236.50,332.93L236.50,337.58 M234.80,335.26L236.50,335.26 M234.80,342.24L242.10,342.24 M234.80,335.26L234.80,342.24 M210.60,312.12L214.60,312.12 M210.60,338.75L234.80,338.75 M210.60,312.12L210.60,338.75 M240.20,346.90L242.10,346.90 M240.20,351.55L242.10,351.55 M240.20,346.90L240.20,351.55 M238.00,349.22L240.20,349.22 M238.00,356.21L242.10,356.21 M238.00,349.22L238.00,356.21 M236.50,352.72L238.00,352.72 M236.50,360.86L242.10,360.86 M236.50,352.72L236.50,360.86 M240.20,365.52L242.10,365.52 M240.20,370.18L242.10,370.18 M240.20,365.52L240.20,370.18 M237.40,367.85L240.20,367.85 M237.40,374.83L242.10,374.83 M237.40,367.85L237.40,374.83 M236.20,371.34L237.40,371.34 M236.20,379.49L242.10,379.49 M236.20,371.34L236.20,379.49 M232.20,356.79L236.50,356.79 M232.20,375.41L236.20,375.41 M232.20,356.79L232.20,375.41 M240.20,384.14L242.10,384.14 M240.20,388.80L242.10,388.80 M240.20,384.14L240.20,388.80 M228.10,366.10L232.20,366.10 M228.10,386.47L240.20,386.47 M228.10,366.10L228.10,386.47 M205.00,325.43L210.60,325.43 M205.00,376.29L228.10,376.29 M205.00,325.43L205.00,376.29 M232.60,393.46L242.10,393.46 M232.60,398.11L242.10,398.11 M232.60,393.46L232.60,398.11 M219.40,395.78L232.60,395.78 M219.40,402.77L242.10,402.77 M219.40,395.78L219.40,402.77 M180.30,350.86L205.00,350.86 M180.30,399.28L219.40,399.28 M180.30,350.86L180.30,399.28 M232.60,407.42L242.10,407.42 M232.60,412.08L242.10,412.08 M232.60,407.42L232.60,412.08 M222.60,409.75L232.60,409.75 M222.60,416.74L242.10,416.74 M222.60,409.75L222.60,416.74 M236.70,421.39L242.10,421.39 M236.70,426.05L242.10,426.05 M236.70,421.39L236.70,426.05 M238.60,430.70L242.10,430.70 M238.60,435.36L242.10,435.36 M238.60,430.70L238.60,435.36 M223.90,423.72L236.70,423.72 M223.90,433.03L238.60,433.03 M223.90,423.72L223.90,433.03 M210.00,413.24L222.60,413.24 M210.00,428.38L223.90,428.38 M210.00,413.24L210.00,428.38 M238.60,440.02L242.10,440.02 M238.60,444.67L242.10,444.67 M238.60,440.02L238.60,444.67 M236.70,442.34L238.60,442.34 M236.70,449.33L242.10,449.33 M236.70,442.34L236.70,449.33 M226.40,445.84L236.70,445.84 M226.40,453.98L242.10,453.98 M226.40,445.84L226.40,453.98 M198.20,420.81L210.00,420.81 M198.20,449.91L226.40,449.91 M198.20,420.81L198.20,449.91 M235.40,458.64L242.10,458.64 M235.40,463.30L242.10,463.30 M235.40,458.64L235.40,463.30 M238.60,467.95L242.10,467.95 M238.60,472.61L242.10,472.61 M238.60,467.95L238.60,472.61 M234.40,460.97L235.40,460.97 M234.40,470.28L238.60,470.28 M234.40,460.97L234.40,470.28 M237.60,477.26L242.10,477.26 M237.60,481.92L242.10,481.92 M237.60,477.26L237.60,481.92 M229.20,465.62L234.40,465.62 M229.20,479.59L237.60,479.59 M229.20,465.62L229.20,479.59 M236.70,486.58L242.10,486.58 M236.70,491.23L242.10,491.23 M236.70,486.58L236.70,491.23 M238.60,495.89L242.10,495.89 M238.60,500.54L242.10,500.54 M238.60,495.89L238.60,500.54 M234.80,488.90L236.70,488.90 M234.80,498.22L238.60,498.22 M234.80,488.90L234.80,498.22 M231.00,493.56L234.80,493.56 M231.00,505.20L242.10,505.20 M231.00,493.56L231.00,505.20 M215.50,472.61L229.20,472.61 M215.50,499.38L231.00,499.38 M215.50,472.61L215.50,499.38 M239.90,509.86L242.10,509.86 M239.90,514.51L242.10,514.51 M239.90,509.86L239.90,514.51 M238.00,512.18L239.90,512.18 M238.00,519.17L242.10,519.17 M238.00,512.18L238.00,519.17 M235.80,515.68L238.00,515.68 M235.80,523.82L242.10,523.82 M235.80,515.68L235.80,523.82 M233.30,519.75L235.80,519.75 M233.30,528.48L242.10,528.48 M233.30,519.75L233.30,528.48 M211.30,485.99L215.50,485.99 M211.30,524.12L233.30,524.12 M211.30,485.99L211.30,524.12 M188.20,435.36L198.20,435.36 M188.20,505.05L211.30,505.05 M188.20,435.36L188.20,505.05 M25.40,375.07L180.30,375.07 M25.40,470.21L188.20,470.21 M25.40,375.07L25.40,470.21" stroke="#333" stroke-width="0.75" fill="none" stroke-linecap="square"/>
<line x1="36.00" y1="541.00" x2="242.40" y2="541.00" stroke="#333" stroke-width="0.7"/>
<line x1="36.00" y1="541.00" x2="36.00" y2="543.80" stroke="#333" stroke-width="0.6"/>
<text x="36.00" y="550.60" font-size="4.2" text-anchor="middle" fill="#222">40</text>
<line x1="87.60" y1="541.00" x2="87.60" y2="543.80" stroke="#333" stroke-width="0.6"/>
<text x="87.60" y="550.60" font-size="4.2" text-anchor="middle" fill="#222">30</text>
<line x1="139.20" y1="541.00" x2="139.20" y2="543.80" stroke="#333" stroke-width="0.6"/>
<text x="139.20" y="550.60" font-size="4.2" text-anchor="middle" fill="#222">20</text>
<line x1="190.80" y1="541.00" x2="190.80" y2="543.80" stroke="#333" stroke-width="0.6"/>
<text x="190.80" y="550.60" font-size="4.2" text-anchor="middle" fill="#222">10</text>
<line x1="242.40" y1="541.00" x2="242.40" y2="543.80" stroke="#333" stroke-width="0.6"/>
<text x="242.40" y="550.60" font-size="4.2" text-anchor="middle" fill="#222">0</text>
<path d="M346.00,443.50L372.55,408.85 M346.00,443.50L399.05,435.35 M346.00,443.50L425.55,461.85 M346.00,443.50L452.05,488.35 M346.00,443.50L478.55,514.85 M346.00,443.50L505.05,541.35 M368.30,467.30L372.55,408.85 M368.30,467.30L399.05,435.35 M368.30,467.30L425.55,461.85 M368.30,467.30L452.05,488.35 M368.30,467.30L478.55,514.85 M368.30,467.30L505.05,541.35 M389.90,491.20L372.55,408.85 M389.90,491.20L399.05,435.35 M389.90,491.20L425.55,461.85 M389.90,491.20L452.05,488.35 M389.90,491.20L478.55,514.85 M389.90,491.20L505.05,541.35 M412.00,515.40L399.05,435.35 M412.00,515.40L425.55,461.85 M412.00,515.40L452.05,488.35 M412.00,515.40L505.05,541.35 M433.80,539.00L372.55,408.85 M433.80,539.00L399.05,435.35 M433.80,539.00L425.55,461.85 M433.80,539.00L452.05,488.35 M433.80,539.00L478.55,514.85 M433.80,539.00L505.05,541.35" stroke="#3434ee" stroke-width="0.85" fill="none"/>
<path d="M412.00,515.40L372.55,408.85 M412.00,515.40L478.55,514.85" stroke="#44ee22" stroke-width="0.9" fill="none"/>
<circle cx="346.00" cy="443.50" r="1.25" fill="#c81848"/>
<text x="342.80" y="445.20" font-size="4.75" text-anchor="end" font-weight="bold" fill="#333">Serum creatinine</text>
<circle cx="368.30" cy="467.30" r="1.25" fill="#c81848"/>
<text x="365.10" y="469.00" font-size="4.75" text-anchor="end" font-weight="bold" fill="#333">BUN</text>
<circle cx="389.90" cy="491.20" r="1.25" fill="#c81848"/>
<text x="386.70" y="492.90" font-size="4.75" text-anchor="end" font-weight="bold" fill="#333">eGFR</text>
<circle cx="412.00" cy="515.40" r="1.25" fill="#c81848"/>
<text x="408.80" y="517.10" font-size="4.75" text-anchor="end" font-weight="bold" fill="#333">Blood uric acid</text>
<circle cx="433.80" cy="539.00" r="1.25" fill="#c81848"/>
<text x="430.60" y="540.70" font-size="4.75" text-anchor="end" font-weight="bold" fill="#333">Blood glucose</text>
<circle cx="372.55" cy="408.85" r="1.25" fill="#c81848"/>
<circle cx="399.05" cy="435.35" r="1.25" fill="#c81848"/>
<circle cx="425.55" cy="461.85" r="1.25" fill="#c81848"/>
<circle cx="452.05" cy="488.35" r="1.25" fill="#c81848"/>
<circle cx="478.55" cy="514.85" r="1.25" fill="#c81848"/>
<circle cx="505.05" cy="541.35" r="1.25" fill="#c81848"/>
<rect x="385.80" y="395.60" width="26.50" height="26.50" fill="#ff200b" stroke="#dcdcdc" stroke-width="0.6"/>
<rect x="412.30" y="395.60" width="26.50" height="26.50" fill="#fff" stroke="#dcdcdc" stroke-width="0.6"/>
<rect x="438.80" y="395.60" width="26.50" height="26.50" fill="#fff" stroke="#dcdcdc" stroke-width="0.6"/>
<rect x="465.30" y="395.60" width="26.50" height="26.50" fill="#fff" stroke="#dcdcdc" stroke-width="0.6"/>
<rect x="491.80" y="395.60" width="26.50" height="26.50" fill="#fff" stroke="#dcdcdc" stroke-width="0.6"/>
<rect x="518.30" y="395.60" width="26.50" height="26.50" fill="#fff" stroke="#dcdcdc" stroke-width="0.6"/>
<rect x="412.30" y="422.10" width="26.50" height="26.50" fill="#ff200b" stroke="#dcdcdc" stroke-width="0.6"/>
<rect x="438.80" y="422.10" width="26.50" height="26.50" fill="#fff" stroke="#dcdcdc" stroke-width="0.6"/>
<rect x="465.30" y="422.10" width="26.50" height="26.50" fill="#fff" stroke="#dcdcdc" stroke-width="0.6"/>
<rect x="491.80" y="422.10" width="26.50" height="26.50" fill="#fff" stroke="#dcdcdc" stroke-width="0.6"/>
<rect x="518.30" y="422.10" width="26.50" height="26.50" fill="#fff" stroke="#dcdcdc" stroke-width="0.6"/>
<rect x="438.80" y="448.60" width="26.50" height="26.50" fill="#ff200b" stroke="#dcdcdc" stroke-width="0.6"/>
<rect x="465.30" y="448.60" width="26.50" height="26.50" fill="#fff" stroke="#dcdcdc" stroke-width="0.6"/>
<rect x="491.80" y="448.60" width="26.50" height="26.50" fill="#fff" stroke="#dcdcdc" stroke-width="0.6"/>
<rect x="518.30" y="448.60" width="26.50" height="26.50" fill="#fff" stroke="#dcdcdc" stroke-width="0.6"/>
<rect x="465.30" y="475.10" width="26.50" height="26.50" fill="#ff200b" stroke="#dcdcdc" stroke-width="0.6"/>
<rect x="491.80" y="475.10" width="26.50" height="26.50" fill="#fff" stroke="#dcdcdc" stroke-width="0.6"/>
<rect x="518.30" y="475.10" width="26.50" height="26.50" fill="#fff" stroke="#dcdcdc" stroke-width="0.6"/>
<rect x="491.80" y="501.60" width="26.50" height="26.50" fill="#ff200b" stroke="#dcdcdc" stroke-width="0.6"/>
<rect x="518.30" y="501.60" width="26.50" height="26.50" fill="#fff" stroke="#dcdcdc" stroke-width="0.6"/>
<rect x="518.30" y="528.10" width="26.50" height="26.50" fill="#ff200b" stroke="#dcdcdc" stroke-width="0.6"/>
<rect x="385.80" y="395.60" width="26.50" height="26.50" fill="#ff200b"/>
<text x="399.05" y="410.85" font-size="5.0" text-anchor="middle" fill="#500">***</text>
<rect x="412.30" y="422.10" width="26.50" height="26.50" fill="#ff200b"/>
<text x="425.55" y="437.35" font-size="5.0" text-anchor="middle" fill="#500">***</text>
<rect x="438.80" y="448.60" width="26.50" height="26.50" fill="#ff200b"/>
<text x="452.05" y="463.85" font-size="5.0" text-anchor="middle" fill="#500">***</text>
<rect x="465.30" y="475.10" width="26.50" height="26.50" fill="#ff200b"/>
<text x="478.55" y="490.35" font-size="5.0" text-anchor="middle" fill="#500">***</text>
<rect x="491.80" y="501.60" width="26.50" height="26.50" fill="#ff200b"/>
<text x="505.05" y="516.85" font-size="5.0" text-anchor="middle" fill="#500">***</text>
<rect x="518.30" y="528.10" width="26.50" height="26.50" fill="#ff200b"/>
<text x="531.55" y="543.35" font-size="5.0" text-anchor="middle" fill="#500">***</text>
<rect x="419.70" y="403.00" width="11.70" height="11.70" fill="#e2d9fc" stroke="#a09898" stroke-width="0.5"/>
<rect x="446.20" y="403.00" width="11.70" height="11.70" fill="#e2d9fc" stroke="#a09898" stroke-width="0.5"/>
<rect x="475.05" y="405.35" width="7.00" height="7.00" fill="#f9f0ea" stroke="#a09898" stroke-width="0.5"/>
<rect x="497.30" y="401.10" width="15.50" height="15.50" fill="#f2c1af" stroke="#a09898" stroke-width="0.5"/>
<rect x="521.95" y="399.25" width="19.20" height="19.20" fill="#ee9a80" stroke="#a09898" stroke-width="0.5"/>
<rect x="449.45" y="432.75" width="5.20" height="5.20" fill="#fbfbfb" stroke="#a09898" stroke-width="0.5"/>
<rect x="475.05" y="431.85" width="7.00" height="7.00" fill="#f1eefb" stroke="#a09898" stroke-width="0.5"/>
<rect x="497.30" y="427.60" width="15.50" height="15.50" fill="#c9b2fc" stroke="#a09898" stroke-width="0.5"/>
<rect x="528.25" y="432.05" width="6.60" height="6.60" fill="#faf3ef" stroke="#a09898" stroke-width="0.5"/>
<rect x="473.85" y="457.15" width="9.40" height="9.40" fill="#f6e4db" stroke="#a09898" stroke-width="0.5"/>
<rect x="500.35" y="457.15" width="9.40" height="9.40" fill="#f6e4db" stroke="#a09898" stroke-width="0.5"/>
<rect x="525.15" y="455.45" width="12.80" height="12.80" fill="#ddd1fb" stroke="#a09898" stroke-width="0.5"/>
<rect x="500.35" y="483.65" width="9.40" height="9.40" fill="#f6e4db" stroke="#a09898" stroke-width="0.5"/>
<rect x="525.45" y="482.25" width="12.20" height="12.20" fill="#f3d5ca" stroke="#a09898" stroke-width="0.5"/>
<rect x="525.45" y="508.75" width="12.20" height="12.20" fill="#f3d5ca" stroke="#a09898" stroke-width="0.5"/>
<text x="531.55" y="410.85" font-size="5.0" text-anchor="middle" fill="#500">**</text>
<text x="547.40" y="410.65" font-size="5.1" font-weight="bold" fill="#222">Glycerol 3-phosphate</text>
<text x="398.75" y="393.70" font-size="5.25" font-weight="bold" fill="#222" transform="rotate(-45 398.75 393.70)">Glycerol 3-phosphate</text>
<text x="547.40" y="437.15" font-size="5.1" font-weight="bold" fill="#222">Glutathione</text>
<text x="425.25" y="393.70" font-size="5.25" font-weight="bold" fill="#222" transform="rotate(-45 425.25 393.70)">Glutathione</text>
<text x="547.40" y="463.65" font-size="5.1" font-weight="bold" fill="#222">Glycerone phosphate</text>
<text x="451.75" y="393.70" font-size="5.25" font-weight="bold" fill="#222" transform="rotate(-45 451.75 393.70)">Glycerone phosphate</text>
<text x="547.40" y="490.15" font-size="5.1" font-weight="bold" fill="#222">Cystine</text>
<text x="478.25" y="393.70" font-size="5.25" font-weight="bold" fill="#222" transform="rotate(-45 478.25 393.70)">Cystine</text>
<text x="547.40" y="516.65" font-size="5.1" font-weight="bold" fill="#222">Serine</text>
<text x="504.75" y="393.70" font-size="5.25" font-weight="bold" fill="#222" transform="rotate(-45 504.75 393.70)">Serine</text>
<text x="547.40" y="543.15" font-size="5.1" font-weight="bold" fill="#222">Phosphorylcholine</text>
<text x="531.25" y="393.70" font-size="5.25" font-weight="bold" fill="#222" transform="rotate(-45 531.25 393.70)">Phosphorylcholine</text>
<text x="607.80" y="423.00" font-size="5.0" fill="#111">correlation</text>
<defs><linearGradient id="corg" x1="0" y1="0" x2="0" y2="1"><stop offset="0" stop-color="#f22a18"/><stop offset="0.25" stop-color="#ee9c8a"/><stop offset="0.5" stop-color="#fbf8f8"/><stop offset="0.75" stop-color="#a898f6"/><stop offset="1" stop-color="#1a08ee"/></linearGradient></defs>
<rect x="607.80" y="426.20" width="7.90" height="39.20" fill="url(#corg)"/>
<text x="618.30" y="427.80" font-size="4.0" fill="#222">1.0</text>
<text x="618.30" y="437.45" font-size="4.0" fill="#222">0.5</text>
<text x="618.30" y="447.10" font-size="4.0" fill="#222">0.0</text>
<text x="618.30" y="456.75" font-size="4.0" fill="#222">-0.5</text>
<text x="618.30" y="466.40" font-size="4.0" fill="#222">-1.0</text>
<text x="607.80" y="479.80" font-size="5.0" fill="#111">Mantel's r</text>
<rect x="607.80" y="484.00" width="7.90" height="6.00" fill="#f0f0f0"/>
<line x1="608.60" y1="487.00" x2="615.00" y2="487.00" stroke="#c8c8c8" stroke-width="0.8"/>
<rect x="607.80" y="492.00" width="7.90" height="6.00" fill="#f0f0f0"/>
<line x1="608.60" y1="495.00" x2="615.00" y2="495.00" stroke="#909090" stroke-width="1.2"/>
<text x="618.30" y="488.70" font-size="4.0" fill="#222">&lt; 0.1</text>
<text x="618.30" y="496.70" font-size="4.0" fill="#222">0.1 - 0.2</text>
<text x="607.80" y="513.60" font-size="5.0" fill="#111">Mantel's p</text>
<rect x="607.80" y="517.40" width="7.90" height="6.00" fill="#f0f0f0"/>
<line x1="608.60" y1="520.40" x2="615.00" y2="520.40" stroke="#44ee22" stroke-width="0.8"/>
<rect x="607.80" y="525.60" width="7.90" height="6.00" fill="#f0f0f0"/>
<line x1="608.60" y1="528.60" x2="615.00" y2="528.60" stroke="#3a3af2" stroke-width="0.8"/>
<text x="618.30" y="522.10" font-size="4.0" fill="#222">0.01 - 0.05</text>
<text x="618.30" y="530.30" font-size="4.0" fill="#222">&gt;= 0.05</text>
<rect x="89.30" y="581.30" width="154.10" height="153.70" fill="#fff" stroke="#8a8a8a" stroke-width="0.9"/>
<line x1="89.30" y1="603.00" x2="243.40" y2="603.00" stroke="#e8e8e8" stroke-width="0.7"/>
<circle cx="236.90" cy="603.00" r="1.55" fill="#333"/>
<text x="83.00" y="605.40" font-size="6.9" text-anchor="end" fill="#111">Glycerol 3-phosphate</text>
<rect x="247.90" y="600.15" width="5.70" height="5.70" fill="#c4202e" stroke="#666" stroke-width="0.45"/>
<rect x="254.00" y="600.15" width="5.70" height="5.70" fill="#3444a6" stroke="#666" stroke-width="0.45"/>
<line x1="89.30" y1="624.90" x2="243.40" y2="624.90" stroke="#e8e8e8" stroke-width="0.7"/>
<circle cx="230.36" cy="624.90" r="1.55" fill="#333"/>
<text x="83.00" y="627.30" font-size="6.9" text-anchor="end" fill="#111">Glycerone phosphate</text>
<rect x="247.90" y="622.05" width="5.70" height="5.70" fill="#c4202e" stroke="#666" stroke-width="0.45"/>
<rect x="254.00" y="622.05" width="5.70" height="5.70" fill="#3444a6" stroke="#666" stroke-width="0.45"/>
<line x1="89.30" y1="646.60" x2="243.40" y2="646.60" stroke="#e8e8e8" stroke-width="0.7"/>
<circle cx="187.21" cy="646.60" r="1.55" fill="#333"/>
<text x="83.00" y="649.00" font-size="6.9" text-anchor="end" fill="#111">Serine</text>
<rect x="247.90" y="643.75" width="5.70" height="5.70" fill="#3444a6" stroke="#666" stroke-width="0.45"/>
<rect x="254.00" y="643.75" width="5.70" height="5.70" fill="#c4202e" stroke="#666" stroke-width="0.45"/>
<line x1="89.30" y1="668.50" x2="243.40" y2="668.50" stroke="#e8e8e8" stroke-width="0.7"/>
<circle cx="142.10" cy="668.50" r="1.55" fill="#333"/>
<text x="83.00" y="670.90" font-size="6.9" text-anchor="end" fill="#111">Glutathione</text>
<rect x="247.90" y="665.65" width="5.70" height="5.70" fill="#3444a6" stroke="#666" stroke-width="0.45"/>
<rect x="254.00" y="665.65" width="5.70" height="5.70" fill="#c4202e" stroke="#666" stroke-width="0.45"/>
<line x1="89.30" y1="690.40" x2="243.40" y2="690.40" stroke="#e8e8e8" stroke-width="0.7"/>
<circle cx="140.70" cy="690.40" r="1.55" fill="#333"/>
<text x="83.00" y="692.80" font-size="6.9" text-anchor="end" fill="#111">Phosphorylcholine</text>
<rect x="247.90" y="687.55" width="5.70" height="5.70" fill="#c4202e" stroke="#666" stroke-width="0.45"/>
<rect x="254.00" y="687.55" width="5.70" height="5.70" fill="#3444a6" stroke="#666" stroke-width="0.45"/>
<line x1="89.30" y1="712.30" x2="243.40" y2="712.30" stroke="#e8e8e8" stroke-width="0.7"/>
<circle cx="95.21" cy="712.30" r="1.55" fill="#333"/>
<text x="83.00" y="714.70" font-size="6.9" text-anchor="end" fill="#111">Cystine</text>
<rect x="247.90" y="709.45" width="5.70" height="5.70" fill="#c4202e" stroke="#666" stroke-width="0.45"/>
<rect x="254.00" y="709.45" width="5.70" height="5.70" fill="#3444a6" stroke="#666" stroke-width="0.45"/>
<line x1="94.00" y1="735.00" x2="94.00" y2="737.80" stroke="#555" stroke-width="0.7"/>
<text x="94.00" y="746.80" font-size="5.5" text-anchor="middle" fill="#333">0.0</text>
<line x1="140.70" y1="735.00" x2="140.70" y2="737.80" stroke="#555" stroke-width="0.7"/>
<text x="140.70" y="746.80" font-size="5.5" text-anchor="middle" fill="#333">0.5</text>
<line x1="187.40" y1="735.00" x2="187.40" y2="737.80" stroke="#555" stroke-width="0.7"/>
<text x="187.40" y="746.80" font-size="5.5" text-anchor="middle" fill="#333">1.0</text>
<line x1="234.10" y1="735.00" x2="234.10" y2="737.80" stroke="#555" stroke-width="0.7"/>
<text x="234.10" y="746.80" font-size="5.5" text-anchor="middle" fill="#333">1.5</text>
<text x="166.20" y="760.40" font-size="5.75" text-anchor="middle" fill="#222">VIP scores</text>
<defs><linearGradient id="vipg" x1="0" y1="0" x2="0" y2="1"><stop offset="0" stop-color="#a50026"/><stop offset="0.15" stop-color="#d73027"/><stop offset="0.32" stop-color="#f46d43"/><stop offset="0.45" stop-color="#fdae61"/><stop offset="0.55" stop-color="#fee090"/><stop offset="0.62" stop-color="#e0f3f8"/><stop offset="0.75" stop-color="#abd9e9"/><stop offset="0.87" stop-color="#4575b4"/><stop offset="1" stop-color="#313695"/></linearGradient></defs>
<rect x="269.00" y="630.70" width="3.90" height="53.90" fill="url(#vipg)"/>
<text x="270.90" y="627.20" font-size="4.5" text-anchor="middle" fill="#333">High</text>
<text x="270.90" y="691.80" font-size="4.5" text-anchor="middle" fill="#333">Low</text>
<text x="250.20" y="583.20" font-size="4.3" fill="#222" transform="rotate(-45 250.20 583.20)">DN</text>
<text x="256.40" y="583.20" font-size="4.3" fill="#222" transform="rotate(-45 256.40 583.20)">HC</text>
<rect x="347.30" y="577.30" width="269.10" height="157.90" fill="#fff" stroke="#a8a8a8" stroke-width="1.0"/>
<line x1="347.80" y1="734.80" x2="615.80" y2="577.60" stroke="#c8c8c8" stroke-width="0.9" stroke-dasharray="3.2,2.6"/>
<line x1="343.70" y1="727.40" x2="347.30" y2="727.40" stroke="#444" stroke-width="0.7"/>
<text x="342.50" y="729.40" font-size="5.8" text-anchor="end" font-weight="bold" fill="#222">0</text>
<line x1="359.30" y1="735.20" x2="359.30" y2="738.40" stroke="#444" stroke-width="0.7"/>
<text x="359.30" y="744.00" font-size="5.9" text-anchor="middle" font-weight="bold" fill="#222">0</text>
<line x1="343.70" y1="698.86" x2="347.30" y2="698.86" stroke="#444" stroke-width="0.7"/>
<text x="342.50" y="700.86" font-size="5.8" text-anchor="end" font-weight="bold" fill="#222">0.2</text>
<line x1="408.22" y1="735.20" x2="408.22" y2="738.40" stroke="#444" stroke-width="0.7"/>
<text x="408.22" y="744.00" font-size="5.9" text-anchor="middle" font-weight="bold" fill="#222">0.2</text>
<line x1="343.70" y1="670.32" x2="347.30" y2="670.32" stroke="#444" stroke-width="0.7"/>
<text x="342.50" y="672.32" font-size="5.8" text-anchor="end" font-weight="bold" fill="#222">0.4</text>
<line x1="457.14" y1="735.20" x2="457.14" y2="738.40" stroke="#444" stroke-width="0.7"/>
<text x="457.14" y="744.00" font-size="5.9" text-anchor="middle" font-weight="bold" fill="#222">0.4</text>
<line x1="343.70" y1="641.78" x2="347.30" y2="641.78" stroke="#444" stroke-width="0.7"/>
<text x="342.50" y="643.78" font-size="5.8" text-anchor="end" font-weight="bold" fill="#222">0.6</text>
<line x1="506.06" y1="735.20" x2="506.06" y2="738.40" stroke="#444" stroke-width="0.7"/>
<text x="506.06" y="744.00" font-size="5.9" text-anchor="middle" font-weight="bold" fill="#222">0.6</text>
<line x1="343.70" y1="613.24" x2="347.30" y2="613.24" stroke="#444" stroke-width="0.7"/>
<text x="342.50" y="615.24" font-size="5.8" text-anchor="end" font-weight="bold" fill="#222">0.8</text>
<line x1="554.98" y1="735.20" x2="554.98" y2="738.40" stroke="#444" stroke-width="0.7"/>
<text x="554.98" y="744.00" font-size="5.9" text-anchor="middle" font-weight="bold" fill="#222">0.8</text>
<line x1="343.70" y1="584.70" x2="347.30" y2="584.70" stroke="#444" stroke-width="0.7"/>
<text x="342.50" y="586.70" font-size="5.8" text-anchor="end" font-weight="bold" fill="#222">1</text>
<line x1="603.90" y1="735.20" x2="603.90" y2="738.40" stroke="#444" stroke-width="0.7"/>
<text x="603.90" y="744.00" font-size="5.9" text-anchor="middle" font-weight="bold" fill="#222">1</text>
<text x="310.20" y="656.00" font-size="7.0" text-anchor="middle" font-weight="bold" fill="#111" transform="rotate(-90 310.20 656.00)">Sensitivities</text>
<text x="481.40" y="766.60" font-size="6.95" text-anchor="middle" font-weight="bold" fill="#111">1-Specificities</text>
<path d="M359.30,727.40 L359.30,584.70 L603.90,584.70" stroke="#f2a33a" stroke-width="1.1" fill="none" stroke-linejoin="miter"/>
<path d="M359.30,727.40 L359.30,584.70 L603.90,584.70" stroke="#e8283c" stroke-width="1.1" fill="none" stroke-linejoin="miter"/>
<path d="M359.30,727.40 L359.30,584.70 L603.90,584.70" stroke="#4242e6" stroke-width="1.1" fill="none" stroke-linejoin="miter"/>
<path d="M359.30,727.40 L359.30,615.20 L367.70,615.20 L367.70,584.70 L603.90,584.70" stroke="#5fe8b6" stroke-width="1.1" fill="none" stroke-linejoin="miter"/>
<path d="M359.30,727.40 L359.30,610.20 L393.60,610.20 L393.60,605.00 L402.30,605.00 L402.30,584.70 L603.90,584.70" stroke="#dc4482" stroke-width="1.1" fill="none" stroke-linejoin="miter"/>
<path d="M359.30,727.40 L359.30,650.50 L367.60,650.50 L367.60,645.50 L385.10,645.50 L385.10,640.50 L402.60,640.50 L402.60,615.20 L411.10,615.20 L411.10,609.90 L420.40,609.90 L420.40,604.60 L429.10,604.60 L429.10,584.70 L603.90,584.70" stroke="#a6a6e6" stroke-width="1.1" fill="none" stroke-linejoin="miter"/>
<path d="M359.30,727.40 L359.30,697.10 L367.60,697.10 L367.60,691.50 L376.40,691.50 L376.40,640.50 L385.30,640.50 L385.30,630.40 L394.10,630.40 L394.10,620.40 L402.50,620.40 L402.50,594.40 L429.10,594.40 L429.10,589.10 L446.60,589.10 L446.60,584.70 L603.90,584.70" stroke="#3daa5c" stroke-width="1.1" fill="none" stroke-linejoin="miter"/>
<path d="M359.30,727.40 L359.30,671.10 L376.40,671.10 L376.40,660.70 L385.40,660.70 L385.40,630.50 L411.40,630.50 L411.40,610.00 L455.80,610.00 L455.80,604.50 L464.10,604.50 L464.10,599.40 L507.60,599.40 L507.60,594.40 L533.90,594.40 L533.90,589.30 L568.80,589.30 L568.80,584.50 L603.90,584.50" stroke="#a424ee" stroke-width="1.1" fill="none" stroke-linejoin="miter"/>
<path d="M359.30,727.40 L359.30,686.60 L394.10,686.60 L394.10,681.40 L402.60,681.40 L402.60,676.40 L411.50,676.40 L411.50,640.60 L420.30,640.60 L420.30,630.40 L429.10,630.40 L429.10,625.00 L437.30,625.00 L437.30,609.80 L455.60,609.80 L455.60,594.60 L464.10,594.60 L464.10,584.70 L603.90,584.70" stroke="#72f2f2" stroke-width="1.1" fill="none" stroke-linejoin="miter"/>
<path d="M359.3,727.4 L359.3,720.6 Q359.6,717.3 364.5,717.2 L376.4,717.2 L376.4,712.2 L394.1,712.2 L394.1,686.6 L402.6,686.6 L402.6,681.4 L411.4,681.4 L411.4,666.1 L429.2,666.1 L429.2,635.5 L459.0,635.5 Q464.1,635.3 464.1,630.4 L464.1,599.5 L481.3,599.5 L481.3,594.4 L499.1,594.4 L499.1,589.3 L551.4,589.3 L551.4,584.5 L603.9,584.5" stroke="#9a72dc" stroke-width="1.1" fill="none" stroke-linejoin="miter"/>
<path d="M359.30,727.40 L359.30,686.60 L367.60,686.60 L367.60,676.40 L402.80,676.40 L402.80,666.30 L420.40,666.30 L420.40,656.10 L429.20,656.10 L429.20,650.80 L455.50,650.80 L455.50,640.40 L490.40,640.40 L490.40,635.30 L499.20,635.30 L499.20,625.30 L507.60,625.30 L507.60,620.30 L516.40,620.30 L516.40,615.40 L525.60,615.40 L525.60,609.80 L534.10,609.80 L534.10,599.40 L569.00,599.40 L569.00,594.50 L595.30,594.50 L595.30,584.50 L603.90,584.50" stroke="#385462" stroke-width="1.1" fill="none" stroke-linejoin="miter"/>
<line x1="471.80" y1="664.20" x2="479.20" y2="664.20" stroke="#f2a33a" stroke-width="1.1"/>
<text x="482.00" y="666.00" font-size="5.05" font-weight="bold" fill="#f2a33a">Serum creatinine,AUC=1.000 (95% CI:&#160; 1.000-1.000)</text>
<line x1="471.80" y1="670.72" x2="479.20" y2="670.72" stroke="#e8283c" stroke-width="1.1"/>
<text x="482.00" y="672.52" font-size="5.05" font-weight="bold" fill="#e8283c">BUN,AUC=1.000 (95% CI:&#160; 1.000-1.000)</text>
<line x1="471.80" y1="677.24" x2="479.20" y2="677.24" stroke="#4242e6" stroke-width="1.1"/>
<text x="482.00" y="679.04" font-size="5.05" font-weight="bold" fill="#4242e6">eGFR,AUC=1.000 (95% CI:&#160; 1.000-1.000)</text>
<line x1="471.80" y1="683.76" x2="479.20" y2="683.76" stroke="#5fe8b6" stroke-width="1.1"/>
<text x="482.00" y="685.56" font-size="5.05" font-weight="bold" fill="#5fe8b6">Blood glucose,AUC=0.992 (95% CI:&#160; 0.976-1.000)</text>
<line x1="471.80" y1="690.28" x2="479.20" y2="690.28" stroke="#dc4482" stroke-width="1.1"/>
<text x="482.00" y="692.08" font-size="5.05" font-weight="bold" fill="#dc4482">Serine,AUC=0.969 (95% CI:&#160; 0.934-1.000)</text>
<line x1="471.80" y1="696.80" x2="479.20" y2="696.80" stroke="#a6a6e6" stroke-width="1.1"/>
<text x="482.00" y="698.60" font-size="5.05" font-weight="bold" fill="#a6a6e6">Glutathione,AUC=0.906 (95% CI:&#160; 0.831-0.980)</text>
<line x1="471.80" y1="703.32" x2="479.20" y2="703.32" stroke="#3daa5c" stroke-width="1.1"/>
<text x="482.00" y="705.12" font-size="5.05" font-weight="bold" fill="#3daa5c">Glycerol 3-phosphate,AUC=0.901 (95% CI:&#160; 0.815-0.986)</text>
<line x1="471.80" y1="709.84" x2="479.20" y2="709.84" stroke="#a424ee" stroke-width="1.1"/>
<text x="482.00" y="711.64" font-size="5.05" font-weight="bold" fill="#a424ee">Cystine,AUC=0.834 (95% CI:&#160; 0.727-0.941)</text>
<line x1="471.80" y1="716.36" x2="479.20" y2="716.36" stroke="#72f2f2" stroke-width="1.1"/>
<text x="482.00" y="718.16" font-size="5.05" font-weight="bold" fill="#72f2f2">Glycerone phosphate,AUC=0.800 (95% CI:&#160; 0.681-0.919)</text>
<line x1="471.80" y1="722.88" x2="479.20" y2="722.88" stroke="#9a72dc" stroke-width="1.1"/>
<text x="482.00" y="724.68" font-size="5.05" font-weight="bold" fill="#9a72dc">Blood uric acid,AUC=0.708 (95% CI:&#160; 0.566-0.850)</text>
<line x1="471.80" y1="729.40" x2="479.20" y2="729.40" stroke="#385462" stroke-width="1.1"/>
<text x="482.00" y="731.20" font-size="5.05" font-weight="bold" fill="#385462">Phosphorylcholine,AUC=0.649 (95% CI:&#160; 0.503-0.796)</text>
<text x="5.00" y="20.30" font-size="29" font-weight="bold" fill="#000">a</text>
<text x="273.90" y="24.30" font-size="29" font-weight="bold" fill="#000">b</text>
<text x="270.60" y="211.30" font-size="29" font-weight="bold" fill="#000">c</text>
<text x="1.60" y="275.40" font-size="29" font-weight="bold" fill="#000">d</text>
<text x="322.00" y="383.00" font-size="29" font-weight="bold" fill="#000">e</text>
<text x="6.20" y="585.80" font-size="29" font-weight="bold" fill="#000">f</text>
<text x="314.60" y="566.10" font-size="29" font-weight="bold" fill="#000">g</text>
</svg>
</body></html>
